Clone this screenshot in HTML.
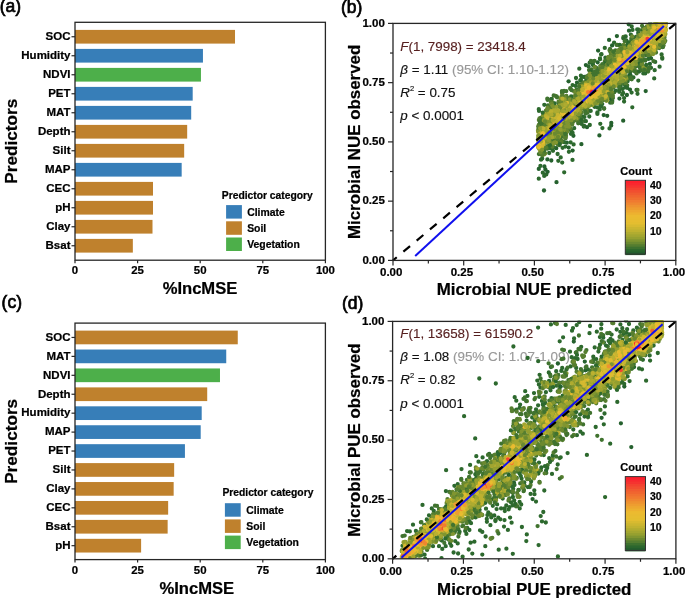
<!DOCTYPE html>
<html><head><meta charset="utf-8"><style>
html,body{margin:0;padding:0;background:#fff;width:685px;height:599px;overflow:hidden}
svg{display:block;filter:blur(0.3px);font-family:"Liberation Sans",sans-serif}
</style></head><body>
<svg width="685" height="599" viewBox="0 0 685 599">
<rect width="685" height="599" fill="#fff"/>
<rect x="75.00" y="29.90" width="160.01" height="13.7" fill="#bf812d"/>
<line x1="71.50" y1="36.75" x2="75.00" y2="36.75" stroke="#262626" stroke-width="1.2"/>
<text x="70.50" y="40.05" font-size="11.5" text-anchor="end" font-weight="bold" fill="#000" stroke="#000" stroke-width="0.22">SOC</text>
<rect x="75.00" y="48.90" width="127.95" height="13.7" fill="#377eb8"/>
<line x1="71.50" y1="55.75" x2="75.00" y2="55.75" stroke="#262626" stroke-width="1.2"/>
<text x="70.50" y="59.05" font-size="11.5" text-anchor="end" font-weight="bold" fill="#000" stroke="#000" stroke-width="0.22">Humidity</text>
<rect x="75.00" y="67.90" width="125.95" height="13.7" fill="#4daf4a"/>
<line x1="71.50" y1="74.75" x2="75.00" y2="74.75" stroke="#262626" stroke-width="1.2"/>
<text x="70.50" y="78.05" font-size="11.5" text-anchor="end" font-weight="bold" fill="#000" stroke="#000" stroke-width="0.22">NDVI</text>
<rect x="75.00" y="86.90" width="117.69" height="13.7" fill="#377eb8"/>
<line x1="71.50" y1="93.75" x2="75.00" y2="93.75" stroke="#262626" stroke-width="1.2"/>
<text x="70.50" y="97.05" font-size="11.5" text-anchor="end" font-weight="bold" fill="#000" stroke="#000" stroke-width="0.22">PET</text>
<rect x="75.00" y="105.90" width="116.19" height="13.7" fill="#377eb8"/>
<line x1="71.50" y1="112.75" x2="75.00" y2="112.75" stroke="#262626" stroke-width="1.2"/>
<text x="70.50" y="116.05" font-size="11.5" text-anchor="end" font-weight="bold" fill="#000" stroke="#000" stroke-width="0.22">MAT</text>
<rect x="75.00" y="124.90" width="112.18" height="13.7" fill="#bf812d"/>
<line x1="71.50" y1="131.75" x2="75.00" y2="131.75" stroke="#262626" stroke-width="1.2"/>
<text x="70.50" y="135.05" font-size="11.5" text-anchor="end" font-weight="bold" fill="#000" stroke="#000" stroke-width="0.22">Depth</text>
<rect x="75.00" y="143.90" width="109.17" height="13.7" fill="#bf812d"/>
<line x1="71.50" y1="150.75" x2="75.00" y2="150.75" stroke="#262626" stroke-width="1.2"/>
<text x="70.50" y="154.05" font-size="11.5" text-anchor="end" font-weight="bold" fill="#000" stroke="#000" stroke-width="0.22">Silt</text>
<rect x="75.00" y="162.90" width="106.67" height="13.7" fill="#377eb8"/>
<line x1="71.50" y1="169.75" x2="75.00" y2="169.75" stroke="#262626" stroke-width="1.2"/>
<text x="70.50" y="173.05" font-size="11.5" text-anchor="end" font-weight="bold" fill="#000" stroke="#000" stroke-width="0.22">MAP</text>
<rect x="75.00" y="181.90" width="78.00" height="13.7" fill="#bf812d"/>
<line x1="71.50" y1="188.75" x2="75.00" y2="188.75" stroke="#262626" stroke-width="1.2"/>
<text x="70.50" y="192.05" font-size="11.5" text-anchor="end" font-weight="bold" fill="#000" stroke="#000" stroke-width="0.22">CEC</text>
<rect x="75.00" y="200.90" width="78.00" height="13.7" fill="#bf812d"/>
<line x1="71.50" y1="207.75" x2="75.00" y2="207.75" stroke="#262626" stroke-width="1.2"/>
<text x="70.50" y="211.05" font-size="11.5" text-anchor="end" font-weight="bold" fill="#000" stroke="#000" stroke-width="0.22">pH</text>
<rect x="75.00" y="219.90" width="77.50" height="13.7" fill="#bf812d"/>
<line x1="71.50" y1="226.75" x2="75.00" y2="226.75" stroke="#262626" stroke-width="1.2"/>
<text x="70.50" y="230.05" font-size="11.5" text-anchor="end" font-weight="bold" fill="#000" stroke="#000" stroke-width="0.22">Clay</text>
<rect x="75.00" y="238.90" width="57.84" height="13.7" fill="#bf812d"/>
<line x1="71.50" y1="245.75" x2="75.00" y2="245.75" stroke="#262626" stroke-width="1.2"/>
<text x="70.50" y="249.05" font-size="11.5" text-anchor="end" font-weight="bold" fill="#000" stroke="#000" stroke-width="0.22">Bsat</text>
<rect x="75.00" y="22.30" width="250.40" height="237.90" fill="none" stroke="#262626" stroke-width="1.3"/>
<line x1="75.00" y1="260.20" x2="75.00" y2="263.20" stroke="#262626" stroke-width="1.2"/>
<text x="75.00" y="274.30" font-size="11.4" text-anchor="middle" font-weight="bold" fill="#000" stroke="#000" stroke-width="0.22">0</text>
<line x1="137.60" y1="260.20" x2="137.60" y2="263.20" stroke="#262626" stroke-width="1.2"/>
<text x="137.60" y="274.30" font-size="11.4" text-anchor="middle" font-weight="bold" fill="#000" stroke="#000" stroke-width="0.22">25</text>
<line x1="200.20" y1="260.20" x2="200.20" y2="263.20" stroke="#262626" stroke-width="1.2"/>
<text x="200.20" y="274.30" font-size="11.4" text-anchor="middle" font-weight="bold" fill="#000" stroke="#000" stroke-width="0.22">50</text>
<line x1="262.80" y1="260.20" x2="262.80" y2="263.20" stroke="#262626" stroke-width="1.2"/>
<text x="262.80" y="274.30" font-size="11.4" text-anchor="middle" font-weight="bold" fill="#000" stroke="#000" stroke-width="0.22">75</text>
<line x1="325.40" y1="260.20" x2="325.40" y2="263.20" stroke="#262626" stroke-width="1.2"/>
<text x="325.40" y="274.30" font-size="11.4" text-anchor="middle" font-weight="bold" fill="#000" stroke="#000" stroke-width="0.22">100</text>
<text x="200.00" y="293.80" font-size="16.6" text-anchor="middle" font-weight="bold" fill="#000" stroke="#000" stroke-width="0.22">%IncMSE</text>
<text transform="translate(17.3,141.25) rotate(-90)" x="0" y="0" font-size="17.2" text-anchor="middle" font-weight="bold" stroke="#000" stroke-width="0.22">Predictors</text>
<text x="221.80" y="198.60" font-size="10.3" text-anchor="start" font-weight="bold" fill="#000" stroke="#000" stroke-width="0.22">Predictor category</text>
<rect x="226.1" y="205.10" width="15.8" height="13.5" fill="#377eb8"/>
<text x="247.20" y="215.90" font-size="10.4" text-anchor="start" font-weight="bold" fill="#000" stroke="#000" stroke-width="0.22">Climate</text>
<rect x="226.1" y="221.30" width="15.8" height="13.5" fill="#bf812d"/>
<text x="247.20" y="232.10" font-size="10.4" text-anchor="start" font-weight="bold" fill="#000" stroke="#000" stroke-width="0.22">Soil</text>
<rect x="226.1" y="237.50" width="15.8" height="13.5" fill="#4daf4a"/>
<text x="247.20" y="248.30" font-size="10.4" text-anchor="start" font-weight="bold" fill="#000" stroke="#000" stroke-width="0.22">Vegetation</text>
<rect x="75.00" y="330.60" width="162.76" height="13.7" fill="#bf812d"/>
<line x1="71.50" y1="337.45" x2="75.00" y2="337.45" stroke="#262626" stroke-width="1.2"/>
<text x="70.50" y="340.75" font-size="11.5" text-anchor="end" font-weight="bold" fill="#000" stroke="#000" stroke-width="0.22">SOC</text>
<rect x="75.00" y="349.53" width="151.24" height="13.7" fill="#377eb8"/>
<line x1="71.50" y1="356.38" x2="75.00" y2="356.38" stroke="#262626" stroke-width="1.2"/>
<text x="70.50" y="359.68" font-size="11.5" text-anchor="end" font-weight="bold" fill="#000" stroke="#000" stroke-width="0.22">MAT</text>
<rect x="75.00" y="368.46" width="144.98" height="13.7" fill="#4daf4a"/>
<line x1="71.50" y1="375.31" x2="75.00" y2="375.31" stroke="#262626" stroke-width="1.2"/>
<text x="70.50" y="378.61" font-size="11.5" text-anchor="end" font-weight="bold" fill="#000" stroke="#000" stroke-width="0.22">NDVI</text>
<rect x="75.00" y="387.39" width="132.21" height="13.7" fill="#bf812d"/>
<line x1="71.50" y1="394.24" x2="75.00" y2="394.24" stroke="#262626" stroke-width="1.2"/>
<text x="70.50" y="397.54" font-size="11.5" text-anchor="end" font-weight="bold" fill="#000" stroke="#000" stroke-width="0.22">Depth</text>
<rect x="75.00" y="406.32" width="126.70" height="13.7" fill="#377eb8"/>
<line x1="71.50" y1="413.17" x2="75.00" y2="413.17" stroke="#262626" stroke-width="1.2"/>
<text x="70.50" y="416.47" font-size="11.5" text-anchor="end" font-weight="bold" fill="#000" stroke="#000" stroke-width="0.22">Humidity</text>
<rect x="75.00" y="425.25" width="125.70" height="13.7" fill="#377eb8"/>
<line x1="71.50" y1="432.10" x2="75.00" y2="432.10" stroke="#262626" stroke-width="1.2"/>
<text x="70.50" y="435.40" font-size="11.5" text-anchor="end" font-weight="bold" fill="#000" stroke="#000" stroke-width="0.22">MAP</text>
<rect x="75.00" y="444.18" width="109.93" height="13.7" fill="#377eb8"/>
<line x1="71.50" y1="451.03" x2="75.00" y2="451.03" stroke="#262626" stroke-width="1.2"/>
<text x="70.50" y="454.33" font-size="11.5" text-anchor="end" font-weight="bold" fill="#000" stroke="#000" stroke-width="0.22">PET</text>
<rect x="75.00" y="463.11" width="99.16" height="13.7" fill="#bf812d"/>
<line x1="71.50" y1="469.96" x2="75.00" y2="469.96" stroke="#262626" stroke-width="1.2"/>
<text x="70.50" y="473.26" font-size="11.5" text-anchor="end" font-weight="bold" fill="#000" stroke="#000" stroke-width="0.22">Silt</text>
<rect x="75.00" y="482.04" width="98.66" height="13.7" fill="#bf812d"/>
<line x1="71.50" y1="488.89" x2="75.00" y2="488.89" stroke="#262626" stroke-width="1.2"/>
<text x="70.50" y="492.19" font-size="11.5" text-anchor="end" font-weight="bold" fill="#000" stroke="#000" stroke-width="0.22">Clay</text>
<rect x="75.00" y="500.97" width="93.15" height="13.7" fill="#bf812d"/>
<line x1="71.50" y1="507.82" x2="75.00" y2="507.82" stroke="#262626" stroke-width="1.2"/>
<text x="70.50" y="511.12" font-size="11.5" text-anchor="end" font-weight="bold" fill="#000" stroke="#000" stroke-width="0.22">CEC</text>
<rect x="75.00" y="519.90" width="92.65" height="13.7" fill="#bf812d"/>
<line x1="71.50" y1="526.75" x2="75.00" y2="526.75" stroke="#262626" stroke-width="1.2"/>
<text x="70.50" y="530.05" font-size="11.5" text-anchor="end" font-weight="bold" fill="#000" stroke="#000" stroke-width="0.22">Bsat</text>
<rect x="75.00" y="538.83" width="66.11" height="13.7" fill="#bf812d"/>
<line x1="71.50" y1="545.68" x2="75.00" y2="545.68" stroke="#262626" stroke-width="1.2"/>
<text x="70.50" y="548.98" font-size="11.5" text-anchor="end" font-weight="bold" fill="#000" stroke="#000" stroke-width="0.22">pH</text>
<rect x="75.00" y="323.10" width="250.40" height="236.50" fill="none" stroke="#262626" stroke-width="1.3"/>
<line x1="75.00" y1="559.60" x2="75.00" y2="562.60" stroke="#262626" stroke-width="1.2"/>
<text x="75.00" y="573.70" font-size="11.4" text-anchor="middle" font-weight="bold" fill="#000" stroke="#000" stroke-width="0.22">0</text>
<line x1="137.60" y1="559.60" x2="137.60" y2="562.60" stroke="#262626" stroke-width="1.2"/>
<text x="137.60" y="573.70" font-size="11.4" text-anchor="middle" font-weight="bold" fill="#000" stroke="#000" stroke-width="0.22">25</text>
<line x1="200.20" y1="559.60" x2="200.20" y2="562.60" stroke="#262626" stroke-width="1.2"/>
<text x="200.20" y="573.70" font-size="11.4" text-anchor="middle" font-weight="bold" fill="#000" stroke="#000" stroke-width="0.22">50</text>
<line x1="262.80" y1="559.60" x2="262.80" y2="562.60" stroke="#262626" stroke-width="1.2"/>
<text x="262.80" y="573.70" font-size="11.4" text-anchor="middle" font-weight="bold" fill="#000" stroke="#000" stroke-width="0.22">75</text>
<line x1="325.40" y1="559.60" x2="325.40" y2="562.60" stroke="#262626" stroke-width="1.2"/>
<text x="325.40" y="573.70" font-size="11.4" text-anchor="middle" font-weight="bold" fill="#000" stroke="#000" stroke-width="0.22">100</text>
<text x="196.80" y="594.30" font-size="16.6" text-anchor="middle" font-weight="bold" fill="#000" stroke="#000" stroke-width="0.22">%IncMSE</text>
<text transform="translate(17.3,441.35) rotate(-90)" x="0" y="0" font-size="17.2" text-anchor="middle" font-weight="bold" stroke="#000" stroke-width="0.22">Predictors</text>
<text x="222.40" y="495.60" font-size="10.3" text-anchor="start" font-weight="bold" fill="#000" stroke="#000" stroke-width="0.22">Predictor category</text>
<rect x="224.9" y="503.20" width="15.8" height="13.5" fill="#377eb8"/>
<text x="246.30" y="514.00" font-size="10.4" text-anchor="start" font-weight="bold" fill="#000" stroke="#000" stroke-width="0.22">Climate</text>
<rect x="224.9" y="519.40" width="15.8" height="13.5" fill="#bf812d"/>
<text x="246.30" y="530.20" font-size="10.4" text-anchor="start" font-weight="bold" fill="#000" stroke="#000" stroke-width="0.22">Soil</text>
<rect x="224.9" y="535.60" width="15.8" height="13.5" fill="#4daf4a"/>
<text x="246.30" y="546.40" font-size="10.4" text-anchor="start" font-weight="bold" fill="#000" stroke="#000" stroke-width="0.22">Vegetation</text>
<text x="-0.30" y="12.00" font-size="17.5" text-anchor="start" font-weight="normal" fill="#000" stroke="#000" stroke-width="0.7">(a)</text>
<text x="1.60" y="308.10" font-size="17.5" text-anchor="start" font-weight="normal" fill="#000" stroke="#000" stroke-width="0.7">(c)</text>
<text x="341.00" y="12.70" font-size="17.5" text-anchor="start" font-weight="normal" fill="#000" stroke="#000" stroke-width="0.7">(b)</text>
<text x="341.90" y="308.80" font-size="17.5" text-anchor="start" font-weight="normal" fill="#000" stroke="#000" stroke-width="0.7">(d)</text>
<text x="400.3" y="50.50" font-size="13.4" fill="#561f1f" stroke="#561f1f" stroke-width="0.15"><tspan font-style="italic">F</tspan>(1, 7998) = 23418.4</text>
<text x="400.3" y="73.50" font-size="13.4" fill="#111" stroke="#111" stroke-width="0.15"><tspan font-style="italic">β</tspan> = 1.11 <tspan fill="#999" stroke="#999">(95% CI: 1.10-1.12)</tspan></text>
<text x="400.3" y="96.50" font-size="13.4" fill="#111" stroke="#111" stroke-width="0.15"><tspan font-style="italic">R</tspan><tspan font-size="7.5" dy="-6">2</tspan><tspan dy="6"> = 0.75</tspan></text>
<text x="400.3" y="119.50" font-size="13.4" fill="#111" stroke="#111" stroke-width="0.15"><tspan font-style="italic">p</tspan> &lt; 0.0001</text>
<clipPath id="cb"><rect x="393.0" y="22.4" width="283.79999999999995" height="237.99999999999997"/></clipPath>
<g clip-path="url(#cb)">
<g fill="none" stroke-width="4.30" stroke-linecap="round"><path d="M581.4 144.2h0M645.7 91.1h0M616.9 36.1h0M598.1 50.6h0M611.2 125.6h0M556.3 148.2h0M566.8 142.7h0M609.1 39.9h0M547.4 159.4h0M594.6 106.8h0M597.7 62.3h0" stroke="#25612e"/><path d="M562.2 162.6h0M589.3 116.5h0M540.2 121.1h0M600.3 123.8h0M632.5 29.9h0M602.4 128.1h0M550.8 148.4h0M584.2 126.0h0M592.9 64.5h0M630.9 34.7h0M637.5 93.8h0M631.7 37.8h0M627.6 81.2h0M614.1 42.6h0M628.7 42.4h0M572.5 159.9h0M565.4 146.6h0M619.2 91.8h0M633.4 77.4h0M582.5 116.5h0M572.6 85.1h0M560.7 157.4h0M631.7 26.5h0M612.3 101.1h0M636.5 90.0h0M624.1 98.1h0M597.1 107.3h0M573.6 144.4h0M628.2 76.5h0M642.0 30.3h0M580.3 80.3h0M579.3 68.7h0" stroke="#2d692e"/><path d="M617.4 44.8h0M551.8 99.0h0M569.2 129.5h0M547.4 147.4h0M604.0 108.5h0M662.7 47.2h0M610.4 52.0h0M547.4 148.7h0M636.6 73.4h0M587.1 76.2h0M610.3 59.3h0M562.0 136.2h0M614.3 92.3h0M656.0 52.6h0M570.3 88.2h0M633.9 37.5h0M631.2 40.8h0M541.1 118.0h0M548.0 105.3h0M631.3 38.9h0M615.5 50.5h0M587.6 112.6h0" stroke="#40732f"/><path d="M646.3 68.8h0M640.5 68.4h0M600.2 66.1h0M618.8 50.3h0M584.0 82.3h0M573.1 121.5h0M604.7 61.1h0M645.0 66.7h0M614.0 55.2h0M553.9 143.4h0M663.5 45.4h0M545.9 110.6h0M614.7 54.9h0M580.0 115.3h0M566.4 95.9h0M636.2 71.3h0M573.9 96.5h0M557.9 144.6h0M545.7 132.8h0M587.1 109.4h0M639.8 65.1h0M593.2 73.0h0M650.3 67.4h0" stroke="#567e30"/><path d="M650.1 55.3h0M561.7 140.4h0M643.3 28.0h0M552.6 102.5h0M632.2 36.4h0M646.8 26.4h0M572.5 122.7h0M564.8 137.0h0M610.8 88.3h0M551.9 135.3h0M566.3 121.2h0" stroke="#6b8930"/><path d="M665.4 33.9h0M561.2 97.2h0M610.5 85.1h0M662.3 22.7h0M665.7 22.8h0M558.1 138.5h0M558.4 106.0h0M636.1 40.9h0M623.8 45.0h0M629.0 68.0h0M617.1 53.6h0M611.2 89.8h0" stroke="#809530"/><path d="M540.1 150.7h0M625.5 80.6h0M621.4 81.4h0M624.2 51.2h0M649.1 25.2h0M657.5 21.9h0" stroke="#939f30"/><path d="M555.6 131.5h0M664.6 35.8h0" stroke="#a1a530"/><path d="M632.8 42.6h0M544.1 143.9h0M613.2 84.9h0" stroke="#aeab30"/><path d="M544.2 132.2h0" stroke="#bcb130"/><path d="M664.7 32.8h0" stroke="#c8b530"/><path d="M665.6 25.3h0M564.8 101.6h0" stroke="#d3b930"/><path d="M651.1 58.3h0M610.5 98.9h0M585.9 65.1h0M607.2 115.8h0M587.0 127.2h0M568.7 147.6h0M545.4 169.5h0M573.4 135.8h0M649.9 63.8h0" stroke="#25612e"/><path d="M654.7 70.2h0M601.5 54.2h0M571.4 130.5h0M638.2 32.9h0M661.6 54.5h0M620.7 86.0h0M542.8 172.7h0M627.0 45.4h0M643.3 73.4h0M542.2 158.6h0M553.8 147.3h0M589.7 62.7h0M650.1 22.1h0M546.3 174.4h0M589.8 125.0h0M622.2 94.7h0M639.1 71.5h0M568.9 151.8h0M580.9 75.7h0M544.3 104.8h0M655.2 61.9h0M602.2 104.1h0M627.9 43.0h0" stroke="#2d692e"/><path d="M600.2 104.8h0M641.9 70.2h0M562.3 93.5h0M642.7 58.1h0M612.9 98.1h0M619.1 86.3h0M557.0 143.0h0M565.8 97.1h0M589.0 70.1h0M566.2 91.2h0M557.1 97.4h0M565.6 138.2h0M591.6 69.3h0M635.3 66.7h0M547.4 146.2h0M623.5 36.9h0M604.2 108.5h0M564.1 91.0h0M662.2 57.6h0M538.9 154.1h0M562.0 92.9h0" stroke="#40732f"/><path d="M664.5 37.7h0M569.8 101.1h0M585.6 82.0h0M634.2 68.2h0M611.9 61.1h0M641.5 59.0h0M643.3 67.0h0M558.4 106.6h0M566.2 133.1h0M611.3 51.1h0M608.1 86.5h0M665.3 40.8h0M580.2 89.2h0M664.3 42.6h0M570.9 124.3h0M601.0 103.0h0M613.9 59.3h0M609.5 50.3h0M588.3 110.3h0M633.7 70.5h0M592.7 73.9h0" stroke="#567e30"/><path d="M548.9 133.2h0M553.1 129.4h0M598.2 101.0h0M628.2 71.4h0M613.0 64.3h0M642.1 62.2h0M588.7 106.3h0M629.7 70.5h0M622.3 48.4h0M555.3 95.8h0M542.9 138.9h0M550.6 132.5h0M582.2 90.1h0M568.0 122.4h0" stroke="#6b8930"/><path d="M565.2 108.6h0M574.8 100.3h0M566.2 106.7h0M653.2 54.0h0M665.6 22.7h0M633.0 43.0h0M644.7 68.9h0M592.4 77.5h0M550.8 123.2h0M556.7 117.6h0M655.0 22.1h0M634.1 41.4h0M608.4 83.1h0M568.2 124.3h0" stroke="#809530"/><path d="M648.5 26.0h0M543.5 145.6h0M566.3 99.3h0M551.8 137.1h0M662.4 37.4h0M607.3 98.3h0M538.4 137.9h0M624.9 50.8h0" stroke="#939f30"/><path d="M566.1 119.5h0M538.2 147.6h0M602.0 94.0h0" stroke="#a1a530"/><path d="M553.5 134.1h0M543.7 146.4h0M628.5 66.3h0M609.0 82.3h0M545.2 130.6h0M569.0 102.7h0" stroke="#aeab30"/><path d="M567.8 108.2h0M627.0 67.6h0M604.2 96.6h0M562.7 116.0h0" stroke="#bcb130"/><path d="M612.3 80.7h0" stroke="#c8b530"/><path d="M554.3 118.8h0" stroke="#debc30"/><path d="M547.6 171.8h0M628.7 24.3h0M556.5 182.2h0M577.0 82.6h0M544.4 166.5h0M612.1 45.4h0" stroke="#25612e"/><path d="M583.7 126.6h0M538.8 178.7h0M630.7 75.8h0M584.4 117.1h0M538.8 109.2h0M551.1 99.1h0M610.2 102.7h0M601.1 54.6h0M609.5 128.4h0M602.1 67.6h0M570.9 133.8h0M549.2 153.0h0M619.5 89.5h0M659.6 66.7h0M626.3 40.3h0M599.7 109.4h0M574.2 128.2h0M632.3 107.3h0M540.4 165.9h0M662.3 58.7h0M584.2 77.0h0" stroke="#2d692e"/><path d="M643.6 28.0h0M594.5 60.8h0M559.4 145.2h0M659.3 48.0h0M620.8 51.9h0M639.9 67.5h0M551.6 142.2h0M551.1 144.8h0M630.4 78.9h0M541.1 154.3h0M605.1 64.9h0M620.2 83.7h0M580.9 118.7h0M630.8 71.2h0M616.6 44.9h0" stroke="#40732f"/><path d="M548.4 130.9h0M538.9 120.1h0M644.4 28.8h0M551.4 132.0h0M624.4 36.8h0M646.9 28.2h0M550.5 139.8h0M627.0 78.7h0M582.3 83.7h0M612.5 96.4h0M581.8 112.3h0M626.5 76.6h0M570.5 128.7h0M589.3 74.4h0M544.5 124.3h0" stroke="#567e30"/><path d="M567.9 120.5h0M547.9 107.7h0M538.9 124.8h0M612.0 92.3h0M641.5 63.7h0M562.3 141.6h0M605.5 85.4h0M599.1 72.1h0M589.6 76.5h0M542.5 124.8h0M563.4 132.2h0M640.0 56.7h0M555.6 128.0h0M556.2 141.6h0M575.0 97.5h0M607.0 89.5h0M652.7 24.4h0" stroke="#6b8930"/><path d="M585.8 83.2h0M576.9 101.7h0M625.3 73.0h0M554.4 106.4h0M553.7 108.2h0M665.0 21.5h0M560.5 134.7h0M609.0 65.1h0M557.7 142.4h0M659.4 46.8h0M552.7 127.8h0M540.1 125.9h0M563.5 121.7h0M569.2 120.3h0M544.3 116.7h0M544.5 154.3h0M581.9 88.7h0M608.3 80.1h0M552.2 130.1h0" stroke="#809530"/><path d="M579.5 93.0h0M568.5 107.0h0M588.2 77.0h0M556.7 110.4h0M590.0 78.7h0M582.3 96.2h0M646.6 55.0h0" stroke="#939f30"/><path d="M563.1 116.9h0M579.1 107.6h0M540.6 140.2h0M551.6 110.9h0M658.0 38.1h0M661.9 36.9h0M556.4 117.0h0M621.0 81.0h0M665.9 23.6h0" stroke="#a1a530"/><path d="M543.3 133.7h0M637.9 43.7h0M564.5 107.0h0M538.4 142.1h0M551.4 124.5h0M634.0 44.2h0M601.5 71.5h0" stroke="#aeab30"/><path d="M637.2 39.8h0M601.3 92.6h0M560.1 120.5h0M538.8 143.5h0M564.2 103.3h0" stroke="#bcb130"/><path d="M589.3 105.6h0M538.8 140.9h0M554.9 125.6h0" stroke="#c8b530"/><path d="M558.9 118.4h0" stroke="#eabb30"/><path d="M629.0 30.7h0M630.1 74.4h0" stroke="#25612e"/><path d="M597.4 113.9h0M623.1 92.9h0M593.2 65.2h0M541.0 159.7h0M544.2 175.9h0M648.4 58.9h0M575.6 85.9h0M636.6 36.6h0M572.6 132.9h0" stroke="#2d692e"/><path d="M594.2 75.0h0M631.7 79.3h0M613.3 87.5h0M630.7 77.5h0M590.9 61.0h0M556.6 96.5h0M560.1 141.5h0M624.0 84.1h0M648.1 71.5h0M584.4 121.1h0M572.3 122.1h0M570.4 88.9h0" stroke="#40732f"/><path d="M567.6 98.4h0M578.0 119.9h0M647.7 30.9h0M580.5 122.7h0M552.4 146.8h0M561.5 140.9h0M539.5 118.5h0M565.7 136.8h0M610.3 95.5h0M599.0 69.2h0M610.0 88.8h0M664.4 42.0h0M637.8 36.4h0M550.3 107.4h0" stroke="#567e30"/><path d="M547.5 108.5h0M599.9 99.4h0M581.6 108.8h0M607.0 96.1h0M562.7 121.8h0M577.4 99.2h0M643.9 66.6h0M577.8 118.0h0M560.0 127.6h0M619.7 83.1h0M613.6 58.8h0M631.4 44.8h0M601.9 72.6h0M626.7 49.0h0M655.7 49.5h0M547.2 124.4h0" stroke="#6b8930"/><path d="M644.4 28.9h0M576.3 93.0h0M584.3 108.5h0M604.5 93.4h0M541.0 131.1h0M662.0 39.7h0M575.1 90.6h0M664.1 41.3h0M555.6 140.3h0M614.0 62.7h0M551.9 129.5h0M551.4 123.2h0M607.1 88.7h0" stroke="#809530"/><path d="M597.8 77.6h0M590.0 81.7h0M638.6 52.1h0M544.7 141.7h0M551.8 138.1h0M616.7 72.4h0M571.2 101.9h0M556.5 106.8h0M550.8 129.4h0M633.2 43.6h0M588.6 80.3h0M582.1 88.5h0M543.2 135.1h0M600.2 96.4h0M610.7 90.3h0M558.1 134.3h0M544.3 141.5h0M643.6 67.4h0M550.2 110.8h0M547.0 135.5h0M657.4 22.2h0" stroke="#939f30"/><path d="M546.5 141.6h0M573.6 101.7h0M652.6 51.9h0M664.5 34.6h0M554.2 134.9h0M633.9 46.6h0M564.8 130.0h0" stroke="#a1a530"/><path d="M649.4 28.2h0M592.2 84.1h0M599.5 95.6h0M578.3 105.6h0M600.8 79.8h0M612.3 68.2h0M649.8 49.2h0M550.9 125.3h0" stroke="#aeab30"/><path d="M569.9 117.5h0M618.4 69.8h0M555.2 132.8h0M617.3 80.6h0M655.5 21.8h0M558.5 121.4h0M643.4 35.4h0M539.5 141.2h0M624.8 72.5h0" stroke="#bcb130"/><path d="M561.8 118.9h0M657.5 38.8h0M573.9 109.6h0" stroke="#c8b530"/><path d="M618.3 73.3h0M578.7 109.8h0" stroke="#d3b930"/><path d="M664.4 32.0h0M652.2 48.1h0M630.4 55.3h0" stroke="#debc30"/><path d="M559.1 115.7h0M657.9 39.9h0M604.6 79.2h0M541.1 133.9h0" stroke="#e5bd30"/><path d="M588.0 84.1h0" stroke="#eabb30"/><path d="M553.8 121.9h0" stroke="#eda630"/><path d="M572.6 150.6h0" stroke="#25612e"/><path d="M615.9 90.6h0M631.6 92.6h0M564.2 142.2h0M586.2 78.7h0M590.6 71.6h0M571.1 96.4h0M581.8 76.9h0M623.3 38.3h0M605.2 62.6h0M570.6 142.3h0M580.9 79.9h0M554.7 103.3h0M639.0 62.9h0" stroke="#2d692e"/><path d="M577.4 117.0h0M579.8 84.4h0M638.7 30.2h0M560.7 137.6h0M637.1 65.9h0M638.8 29.6h0M645.3 60.5h0M627.2 85.3h0M600.0 58.4h0M584.8 109.3h0M576.8 89.7h0" stroke="#40732f"/><path d="M561.6 141.8h0M611.0 54.7h0M619.6 45.8h0M562.0 132.1h0M625.8 83.4h0M603.4 100.0h0M612.7 54.6h0M583.2 83.3h0M550.9 102.0h0M578.6 94.7h0M574.2 91.5h0M580.2 123.2h0M663.2 45.8h0" stroke="#567e30"/><path d="M633.3 69.3h0M565.8 100.7h0M548.0 112.5h0M610.1 91.8h0M601.3 65.7h0M545.2 153.3h0M558.9 137.3h0M560.6 104.0h0M569.4 126.7h0M567.2 131.4h0" stroke="#6b8930"/><path d="M554.5 136.3h0M601.5 74.1h0M542.8 147.4h0M587.8 106.1h0M598.5 79.6h0M563.2 127.6h0M558.0 126.1h0M575.7 95.1h0M606.3 94.7h0M554.5 136.9h0M626.4 69.3h0M665.2 22.0h0M649.2 52.5h0M651.9 53.6h0M654.4 52.2h0M616.1 85.7h0" stroke="#809530"/><path d="M659.7 41.9h0M644.7 53.2h0M616.6 54.9h0M582.7 96.4h0M585.8 83.6h0M607.3 100.0h0M592.5 105.0h0M606.5 67.4h0" stroke="#939f30"/><path d="M543.7 139.3h0M538.7 135.2h0M569.5 104.1h0M643.8 51.6h0M603.0 85.9h0M554.0 133.0h0M623.5 53.2h0M559.1 136.2h0M614.7 63.5h0M565.2 119.0h0M608.5 64.7h0M546.4 118.7h0M607.5 82.5h0" stroke="#a1a530"/><path d="M548.7 115.7h0M606.7 100.7h0M655.5 23.3h0M543.1 146.2h0M561.1 113.8h0M560.3 124.3h0M575.7 105.5h0M569.9 108.3h0M602.3 75.6h0M556.7 138.5h0M570.9 116.6h0M660.4 22.5h0" stroke="#aeab30"/><path d="M551.6 127.8h0M665.9 29.3h0M663.1 25.9h0M630.6 59.2h0M649.7 48.8h0M587.1 85.5h0M608.5 71.9h0M602.2 76.3h0" stroke="#bcb130"/><path d="M595.0 86.6h0M540.2 149.3h0M550.0 115.6h0M592.3 99.3h0M596.9 81.7h0M611.4 83.4h0" stroke="#c8b530"/><path d="M609.2 69.1h0M635.7 46.5h0M542.9 143.9h0M555.1 121.7h0M596.9 80.7h0" stroke="#d3b930"/><path d="M560.1 114.1h0M569.0 115.3h0M636.9 58.0h0M601.6 92.0h0M648.3 49.9h0M591.9 87.2h0" stroke="#debc30"/><path d="M596.1 92.6h0" stroke="#e5bd30"/><path d="M628.5 57.9h0M538.0 145.8h0" stroke="#e8bc30"/><path d="M588.3 88.4h0" stroke="#ecb830"/><path d="M611.3 123.0h0M538.8 168.9h0" stroke="#25612e"/><path d="M600.1 59.2h0M624.1 101.6h0M597.4 112.5h0M651.0 67.8h0M539.0 110.9h0M553.0 150.8h0M558.7 102.7h0M581.4 120.2h0" stroke="#2d692e"/><path d="M645.9 55.2h0M648.5 70.0h0M541.5 117.6h0M539.6 124.2h0M597.2 71.0h0M597.5 72.6h0" stroke="#40732f"/><path d="M641.7 63.9h0M547.1 127.0h0M561.9 133.6h0M557.0 139.4h0M619.2 49.8h0M568.3 98.1h0M609.0 58.6h0M576.4 120.6h0M542.3 155.2h0M572.2 124.5h0" stroke="#567e30"/><path d="M591.4 80.6h0M583.6 107.3h0M661.5 45.3h0M617.1 84.1h0M612.3 52.4h0M604.8 89.1h0M649.5 27.0h0M547.5 118.8h0M614.4 59.6h0M598.7 75.9h0M579.7 86.3h0M574.5 91.6h0" stroke="#6b8930"/><path d="M615.9 57.6h0M588.5 81.2h0M563.2 128.9h0M556.4 136.5h0M579.6 111.0h0M571.2 105.0h0M561.4 125.4h0M608.4 63.1h0M590.0 73.7h0M649.6 25.6h0M564.1 110.2h0M560.8 98.4h0M617.8 51.5h0M538.1 139.5h0" stroke="#809530"/><path d="M540.9 136.3h0M561.0 130.5h0M633.1 64.4h0M553.8 119.3h0M626.1 78.3h0M580.9 96.9h0M634.1 64.2h0M605.2 83.2h0M559.9 103.4h0M633.7 44.4h0M605.7 91.2h0M539.1 148.7h0M623.3 48.3h0M550.0 124.1h0M581.7 107.4h0M562.2 103.0h0M650.2 52.4h0" stroke="#939f30"/><path d="M591.1 82.4h0M571.6 112.0h0M546.2 129.9h0M544.8 114.0h0M597.0 97.9h0M642.2 37.3h0M617.8 64.2h0M633.7 44.7h0M539.7 139.7h0M578.4 103.4h0M620.8 71.8h0M555.8 134.6h0M645.2 49.5h0M549.8 127.5h0M567.7 126.3h0M652.3 26.6h0" stroke="#a1a530"/><path d="M639.0 50.9h0M571.1 108.6h0M645.5 48.0h0M623.4 70.1h0M643.0 47.5h0M591.4 86.6h0" stroke="#aeab30"/><path d="M651.3 47.7h0M596.8 78.2h0M607.3 83.3h0M647.0 35.7h0M559.7 119.4h0M611.0 83.1h0M623.2 60.2h0M578.5 102.2h0M567.6 110.9h0M623.3 75.9h0M602.6 76.7h0M618.6 56.5h0" stroke="#bcb130"/><path d="M632.0 55.9h0M660.8 36.2h0M567.7 114.9h0M538.9 146.4h0M638.3 44.5h0" stroke="#c8b530"/><path d="M605.4 78.3h0M542.7 145.5h0M655.5 45.0h0" stroke="#d3b930"/><path d="M562.8 106.9h0M635.7 46.6h0M538.4 144.2h0M589.9 87.4h0" stroke="#debc30"/><path d="M642.1 48.3h0M626.2 60.2h0" stroke="#e5bd30"/><path d="M585.7 85.3h0M541.0 134.7h0M649.0 43.1h0" stroke="#e8bc30"/><path d="M595.7 93.3h0" stroke="#eabb30"/><path d="M617.7 69.0h0M572.4 115.4h0M643.4 37.4h0" stroke="#ecb830"/><path d="M587.3 89.9h0" stroke="#ee9d30"/><path d="M637.2 29.4h0M557.6 154.0h0M605.4 57.7h0" stroke="#2d692e"/><path d="M602.3 64.2h0M619.3 87.5h0M642.1 25.8h0M547.7 99.9h0M645.3 59.6h0M542.0 123.1h0M544.3 150.5h0" stroke="#40732f"/><path d="M578.1 91.0h0M565.2 137.4h0M623.2 45.3h0M544.6 125.4h0M612.8 95.6h0M620.1 53.8h0M624.0 46.0h0M615.7 55.2h0" stroke="#567e30"/><path d="M621.4 53.5h0M545.9 136.1h0M551.4 104.0h0M585.7 109.7h0M606.7 64.9h0M560.6 100.4h0M625.0 76.5h0M627.5 49.9h0M561.0 101.7h0M610.6 56.7h0M549.2 135.8h0M641.9 63.9h0M551.9 104.0h0" stroke="#6b8930"/><path d="M538.4 136.7h0M602.6 80.7h0M543.0 115.5h0M552.6 106.1h0M557.1 130.5h0M538.3 135.8h0M663.0 41.9h0M642.1 33.1h0M557.2 129.9h0M649.8 31.0h0M575.2 117.3h0" stroke="#809530"/><path d="M582.0 87.4h0M606.4 100.1h0M599.6 76.5h0M576.6 118.3h0M562.1 96.1h0M624.1 79.7h0M562.0 98.5h0M563.6 99.2h0M590.4 101.1h0M541.8 150.0h0M653.4 39.5h0M560.5 112.3h0M570.4 111.3h0" stroke="#939f30"/><path d="M562.3 104.9h0M648.6 26.9h0M615.8 59.5h0M665.6 30.7h0M546.9 129.1h0M604.2 72.7h0M664.7 34.3h0M551.3 115.5h0M582.0 86.3h0M563.5 106.5h0M595.1 81.3h0M551.4 118.2h0M593.8 100.3h0M557.3 114.0h0M553.1 111.9h0M617.6 55.7h0M565.7 113.4h0M580.6 97.1h0M543.5 134.6h0" stroke="#a1a530"/><path d="M538.1 131.9h0M638.3 54.3h0M651.5 30.3h0M617.2 61.3h0M642.9 35.6h0M585.5 100.6h0M640.2 48.0h0M549.1 113.6h0" stroke="#aeab30"/><path d="M617.5 68.9h0M610.2 70.8h0M635.0 47.9h0M589.9 85.5h0M569.7 115.3h0M602.2 91.7h0M655.0 33.1h0M621.3 75.6h0M657.8 34.4h0M591.7 89.6h0M581.9 92.9h0M586.9 93.2h0" stroke="#bcb130"/><path d="M657.6 32.5h0M571.9 114.4h0M601.4 83.7h0M663.3 34.7h0M643.7 46.4h0M585.0 91.3h0M654.1 41.9h0M579.0 99.6h0M586.1 84.8h0M661.7 27.2h0M552.8 118.2h0M640.4 45.8h0M582.6 105.2h0" stroke="#c8b530"/><path d="M542.7 143.4h0M658.3 41.3h0M623.4 79.6h0M631.8 58.0h0M641.9 53.0h0" stroke="#d3b930"/><path d="M584.5 102.6h0M551.2 126.6h0M623.6 61.9h0M616.7 73.7h0" stroke="#debc30"/><path d="M543.1 141.9h0M614.8 64.9h0M598.9 91.3h0M663.6 32.7h0" stroke="#e5bd30"/><path d="M540.2 145.1h0" stroke="#e8bc30"/><path d="M627.6 58.5h0" stroke="#eabb30"/><path d="M588.9 87.5h0" stroke="#edaf30"/><path d="M597.6 89.0h0M648.6 41.3h0" stroke="#f07130"/><path d="M623.2 120.7h0M619.4 98.6h0M599.4 135.4h0" stroke="#25612e"/><path d="M604.8 47.9h0M619.8 44.9h0M542.7 112.7h0M646.3 65.0h0M638.3 80.6h0M588.6 66.4h0M654.2 78.4h0" stroke="#2d692e"/><path d="M606.4 60.0h0M644.9 59.8h0M541.4 123.6h0M553.0 140.5h0M595.2 67.1h0M596.3 67.8h0M570.4 98.9h0M578.2 123.3h0M608.5 64.1h0M624.7 41.2h0" stroke="#40732f"/><path d="M574.3 119.8h0M608.7 61.4h0M631.0 67.0h0M558.6 101.6h0M638.5 59.9h0M648.3 54.9h0" stroke="#567e30"/><path d="M602.1 70.3h0M564.8 96.9h0M557.6 131.7h0M564.0 123.7h0M547.7 109.1h0M566.6 129.8h0M590.8 104.8h0" stroke="#6b8930"/><path d="M615.2 60.1h0M589.0 76.9h0M564.1 129.6h0M663.7 40.3h0M553.4 143.5h0M547.9 123.5h0M549.5 141.4h0M624.5 48.1h0M658.1 45.6h0M614.4 82.8h0M568.7 110.3h0" stroke="#809530"/><path d="M574.5 117.5h0M643.0 51.9h0M665.5 26.6h0M649.7 51.1h0M592.5 78.9h0M588.6 105.1h0M648.7 32.4h0M603.6 75.3h0M555.5 116.2h0M646.0 32.8h0M566.6 118.7h0M626.7 70.1h0" stroke="#939f30"/><path d="M577.3 98.2h0M625.0 57.3h0M579.6 105.7h0M594.0 97.5h0M550.8 137.2h0M552.1 137.4h0M613.0 76.6h0M583.0 87.9h0M657.5 43.5h0M546.4 115.0h0M607.4 69.1h0M601.6 83.3h0M586.8 104.7h0M539.3 144.7h0" stroke="#a1a530"/><path d="M554.0 110.3h0M654.2 43.9h0M657.1 40.2h0M651.5 45.1h0M570.1 114.9h0M546.1 137.9h0M651.6 46.2h0M619.6 74.5h0M570.9 103.9h0M560.6 118.7h0M663.8 34.2h0M567.3 114.3h0M588.2 102.5h0" stroke="#aeab30"/><path d="M645.7 36.6h0M605.9 80.3h0M601.1 88.8h0M630.9 47.2h0M557.1 123.4h0M563.7 115.7h0M598.3 82.6h0M596.1 98.0h0M650.3 38.0h0" stroke="#bcb130"/><path d="M557.1 121.5h0M567.7 106.5h0M583.5 101.0h0M659.4 25.6h0M607.5 92.2h0M549.7 127.3h0M561.5 124.7h0M648.9 45.5h0M583.6 88.9h0M599.9 92.3h0M582.1 92.2h0M639.6 39.5h0" stroke="#c8b530"/><path d="M623.6 57.7h0M637.7 47.1h0M642.9 36.3h0M659.5 39.7h0M577.6 110.6h0" stroke="#d3b930"/><path d="M640.2 49.7h0M607.4 71.0h0M611.6 66.9h0M561.9 113.0h0M580.7 102.2h0M560.5 119.9h0M621.1 64.2h0M654.3 35.1h0" stroke="#debc30"/><path d="M563.6 114.4h0M649.1 47.6h0M586.5 86.1h0" stroke="#e5bd30"/><path d="M588.1 91.5h0M583.7 93.2h0" stroke="#e8bc30"/><path d="M663.8 30.0h0M663.6 29.2h0" stroke="#eabb30"/><path d="M650.6 45.6h0" stroke="#edaf30"/><path d="M568.6 81.3h0" stroke="#25612e"/><path d="M581.7 123.9h0M562.6 147.8h0M627.2 87.9h0" stroke="#2d692e"/><path d="M543.7 153.2h0M585.4 111.4h0M579.1 86.6h0M653.5 61.2h0M585.7 113.6h0" stroke="#40732f"/><path d="M627.6 50.1h0M609.4 62.6h0M626.8 71.4h0M608.7 93.9h0M586.9 77.4h0" stroke="#567e30"/><path d="M629.9 45.4h0M563.8 126.8h0M561.5 133.6h0M549.8 120.0h0M608.2 58.2h0M558.5 132.2h0M552.0 114.8h0M538.5 131.2h0M650.7 24.7h0M562.1 96.0h0M645.7 52.2h0" stroke="#6b8930"/><path d="M566.0 126.0h0M637.7 38.5h0M547.1 121.4h0M620.0 81.2h0M621.2 48.1h0M569.8 99.4h0M656.3 23.0h0M623.2 80.5h0" stroke="#809530"/><path d="M631.8 68.3h0M555.2 142.6h0M640.2 55.6h0M621.0 76.0h0M630.3 63.6h0M597.2 103.1h0M568.3 103.3h0M603.9 75.9h0M605.0 81.3h0M616.3 75.5h0M547.9 142.0h0M601.5 81.0h0M608.4 84.9h0M605.4 68.8h0M604.1 81.7h0" stroke="#939f30"/><path d="M573.3 108.3h0M569.6 112.7h0M615.3 85.6h0M629.3 46.7h0M555.0 126.6h0M613.8 81.0h0M539.0 136.2h0M641.9 55.9h0M549.3 124.6h0M594.8 81.6h0M619.7 75.3h0M585.1 97.3h0M556.2 114.1h0" stroke="#a1a530"/><path d="M583.9 102.7h0M661.3 40.9h0M591.6 83.9h0M568.3 112.9h0M655.8 41.3h0M613.7 78.1h0M653.6 25.1h0M597.1 78.1h0M570.8 116.5h0M582.3 89.8h0M565.6 118.5h0M632.3 64.0h0M582.5 99.8h0M633.4 48.5h0M603.6 98.0h0M617.4 61.0h0M606.5 75.8h0M555.8 125.1h0" stroke="#aeab30"/><path d="M576.4 109.1h0M570.1 113.4h0M551.0 111.4h0M560.4 125.0h0M546.0 116.1h0M539.5 131.1h0M660.5 31.6h0M657.7 29.3h0" stroke="#bcb130"/><path d="M635.2 59.8h0M538.6 144.3h0M598.7 88.1h0M655.2 38.5h0M644.1 47.8h0M630.8 53.7h0" stroke="#c8b530"/><path d="M585.5 96.2h0M555.5 122.8h0M631.6 60.1h0M657.3 29.9h0M606.9 72.9h0M586.4 89.2h0" stroke="#d3b930"/><path d="M619.2 68.6h0M595.2 84.9h0M575.8 111.0h0M566.9 102.8h0" stroke="#debc30"/><path d="M620.3 58.3h0M625.0 64.0h0M646.6 42.1h0M638.3 50.2h0M646.5 38.5h0M563.8 105.7h0M539.4 145.5h0M598.3 85.2h0" stroke="#e5bd30"/><path d="M587.9 101.5h0M651.3 37.2h0M565.2 115.5h0" stroke="#e8bc30"/><path d="M624.8 66.8h0M595.1 92.9h0M587.1 86.0h0M555.3 123.6h0" stroke="#eabb30"/><path d="M643.1 45.2h0M639.3 41.9h0" stroke="#ecb830"/><path d="M594.8 92.5h0M587.2 91.7h0" stroke="#edaf30"/><path d="M593.5 88.2h0M572.2 113.4h0" stroke="#ee9d30"/><path d="M590.7 94.2h0M593.2 92.0h0" stroke="#ef8730"/><path d="M551.3 160.5h0M630.0 89.6h0" stroke="#25612e"/><path d="M558.3 160.8h0M564.2 172.3h0M645.2 73.4h0M590.7 110.9h0" stroke="#2d692e"/><path d="M662.7 46.9h0M610.1 48.9h0M649.0 67.3h0M553.7 95.4h0M571.6 90.2h0M593.3 61.3h0M637.5 90.0h0M539.8 121.4h0" stroke="#40732f"/><path d="M566.0 135.6h0M543.0 154.3h0M660.0 44.8h0M575.9 95.4h0M602.5 67.0h0M644.0 69.5h0M572.8 100.1h0M613.2 51.4h0" stroke="#567e30"/><path d="M639.2 36.3h0M606.1 100.5h0M614.8 60.0h0M618.0 51.9h0M547.6 108.9h0M639.3 35.0h0M564.2 123.1h0M629.7 66.2h0M594.7 67.2h0M546.3 136.0h0" stroke="#6b8930"/><path d="M538.0 130.2h0M630.8 67.7h0M621.8 56.1h0M567.1 122.8h0M635.9 64.4h0M550.9 120.8h0M607.1 87.6h0M644.3 29.6h0" stroke="#809530"/><path d="M604.8 74.8h0M650.6 34.6h0M567.2 106.3h0M650.7 30.4h0M564.6 99.4h0M560.3 129.5h0M555.4 125.5h0M579.7 111.9h0M613.3 80.3h0M637.2 40.2h0M561.4 110.6h0M556.6 135.8h0M633.4 61.5h0M579.1 98.4h0M599.5 95.8h0" stroke="#939f30"/><path d="M659.6 39.0h0M573.9 118.1h0M547.1 127.9h0M615.6 81.7h0M542.0 128.2h0M654.2 26.0h0M593.5 101.6h0M589.7 103.1h0M636.4 47.5h0M627.6 50.7h0" stroke="#a1a530"/><path d="M593.3 103.3h0M651.2 41.8h0M618.0 66.0h0M614.5 83.0h0M591.5 97.2h0M611.2 78.7h0M583.0 103.5h0" stroke="#aeab30"/><path d="M614.8 71.6h0M654.7 25.1h0M574.7 104.5h0M582.9 89.6h0M622.0 68.5h0M617.1 76.3h0M650.4 47.0h0M620.0 55.7h0" stroke="#bcb130"/><path d="M665.6 30.0h0M631.0 60.5h0M605.9 73.0h0M627.3 60.7h0M547.2 118.4h0" stroke="#c8b530"/><path d="M575.5 106.3h0M647.9 45.6h0M619.2 62.7h0M600.5 86.3h0M539.7 147.2h0M584.3 98.4h0M627.5 55.4h0" stroke="#d3b930"/><path d="M625.3 54.6h0M617.3 65.6h0M656.3 25.2h0M573.2 106.9h0" stroke="#debc30"/><path d="M597.3 85.2h0M592.7 96.1h0M592.9 95.6h0M619.6 66.5h0M600.2 88.5h0M636.3 41.9h0M617.4 78.9h0M539.0 147.3h0M574.7 106.1h0" stroke="#e5bd30"/><path d="M593.3 89.7h0M609.3 69.1h0M619.6 60.4h0" stroke="#e8bc30"/><path d="M637.0 48.7h0M646.0 46.9h0M590.3 91.5h0M635.8 58.3h0M640.2 43.1h0" stroke="#eabb30"/><path d="M645.2 38.0h0M597.5 87.6h0M639.3 47.8h0M587.7 91.4h0M587.8 100.0h0" stroke="#ecb830"/><path d="M642.1 42.0h0M640.8 43.8h0" stroke="#edaf30"/><path d="M593.4 90.4h0" stroke="#eda630"/><path d="M621.0 61.5h0" stroke="#ee9d30"/><path d="M648.2 40.1h0" stroke="#ee9230"/><path d="M590.5 92.7h0M591.6 91.4h0" stroke="#f07130"/><path d="M544.0 190.5h0" stroke="#25612e"/><path d="M585.9 121.2h0M622.6 89.1h0M625.7 36.5h0M625.3 87.2h0M600.9 106.5h0" stroke="#2d692e"/><path d="M641.2 60.8h0M565.2 134.0h0M595.6 74.4h0M613.5 51.8h0M612.1 102.5h0M592.7 74.4h0" stroke="#40732f"/><path d="M562.6 95.3h0M642.9 55.6h0M611.2 89.2h0M634.6 70.3h0M546.0 147.7h0" stroke="#567e30"/><path d="M662.8 42.1h0M557.9 136.7h0M560.8 100.5h0M540.5 152.4h0M560.4 107.6h0" stroke="#6b8930"/><path d="M579.3 94.0h0M622.5 81.0h0M635.8 61.8h0M656.2 26.2h0M542.0 149.8h0M653.5 53.0h0M555.1 133.9h0M543.7 120.4h0M546.7 121.6h0M547.2 141.5h0M578.5 114.3h0M656.4 47.7h0" stroke="#809530"/><path d="M578.6 93.5h0M624.2 73.6h0M602.8 91.2h0M628.3 65.8h0M661.4 22.6h0M640.7 35.0h0M573.6 101.2h0M549.0 137.6h0M544.1 119.9h0M548.4 139.9h0M631.5 49.2h0" stroke="#939f30"/><path d="M563.1 111.2h0M616.4 78.9h0M543.9 130.8h0M652.6 47.6h0M651.9 32.8h0M565.4 103.4h0M657.0 25.5h0M644.5 32.2h0M563.2 105.4h0M597.7 78.7h0" stroke="#a1a530"/><path d="M541.2 141.3h0M655.2 39.7h0M552.8 120.5h0M614.8 82.7h0M585.9 88.5h0M578.1 98.7h0M605.0 97.8h0M611.2 75.7h0M585.4 106.6h0M583.2 101.0h0M658.2 24.9h0M662.1 23.4h0M604.9 72.6h0M577.6 110.0h0M558.0 110.5h0M617.1 77.9h0M595.1 101.9h0M565.5 104.8h0M631.9 50.6h0" stroke="#aeab30"/><path d="M544.8 137.6h0M620.3 61.3h0M626.2 53.1h0M543.3 128.5h0M579.1 103.8h0M600.6 88.9h0M654.2 50.3h0M556.2 122.7h0M550.4 125.3h0" stroke="#bcb130"/><path d="M621.0 60.0h0M655.3 36.1h0M561.8 120.6h0M588.7 85.9h0M555.8 117.3h0M569.8 108.5h0M608.6 77.2h0M662.1 34.3h0M557.7 114.9h0M634.0 52.2h0" stroke="#c8b530"/><path d="M635.3 56.5h0M640.6 40.3h0M615.5 65.8h0M625.8 56.2h0M559.2 118.2h0M625.6 61.5h0" stroke="#d3b930"/><path d="M659.5 24.2h0M658.6 34.8h0M630.8 53.7h0M664.9 24.1h0M638.4 49.0h0M572.8 113.4h0M615.8 68.5h0" stroke="#debc30"/><path d="M658.0 28.5h0M629.8 51.9h0M587.9 95.2h0M590.1 92.5h0" stroke="#e5bd30"/><path d="M661.3 27.8h0M542.4 134.1h0" stroke="#e8bc30"/><path d="M624.4 52.2h0M598.8 92.8h0M614.9 65.1h0" stroke="#eabb30"/><path d="M590.3 92.1h0M635.1 54.0h0" stroke="#ecb830"/><path d="M632.9 54.1h0" stroke="#edaf30"/><path d="M661.8 28.0h0" stroke="#eda630"/><path d="M595.0 89.1h0M625.3 63.5h0" stroke="#ee9d30"/><path d="M637.4 47.3h0M662.1 30.5h0" stroke="#ee9230"/><path d="M645.3 40.3h0" stroke="#ef8730"/><path d="M620.4 60.1h0" stroke="#f07130"/><path d="M603.7 115.1h0M626.9 95.0h0" stroke="#25612e"/><path d="M559.8 144.1h0M549.9 145.3h0M576.0 78.0h0" stroke="#2d692e"/><path d="M635.0 71.6h0M561.9 91.2h0M594.9 71.4h0M644.5 70.1h0M547.3 98.7h0" stroke="#40732f"/><path d="M538.2 126.4h0M538.5 127.9h0M621.4 48.5h0" stroke="#567e30"/><path d="M602.0 99.0h0M563.5 118.9h0M613.6 86.4h0M575.3 104.0h0M593.2 78.6h0M592.7 83.4h0M608.4 56.9h0M555.0 133.6h0M597.3 101.3h0M618.7 73.6h0M545.0 121.4h0" stroke="#6b8930"/><path d="M590.0 75.7h0M553.6 115.1h0M595.3 103.5h0M571.4 120.4h0M569.0 126.5h0M554.5 142.5h0M538.9 135.5h0" stroke="#809530"/><path d="M630.2 48.7h0M575.5 113.5h0M540.1 128.3h0M604.7 87.3h0M611.1 66.1h0M602.5 71.1h0M620.9 78.0h0M632.9 64.3h0" stroke="#939f30"/><path d="M616.7 74.0h0M627.4 52.2h0M558.1 124.0h0M576.4 103.5h0M610.4 78.3h0M637.1 53.1h0M612.5 66.8h0M584.0 96.6h0M627.1 63.9h0M581.7 104.5h0M568.9 109.7h0" stroke="#a1a530"/><path d="M645.0 38.8h0M659.8 38.1h0M617.0 75.7h0M649.2 46.7h0M655.3 29.6h0M556.2 111.1h0M653.0 36.7h0M551.5 114.7h0M574.4 101.5h0" stroke="#aeab30"/><path d="M607.7 78.5h0M652.6 36.5h0M590.6 102.0h0M615.7 69.6h0M635.1 51.7h0M562.4 98.7h0M625.9 62.6h0M589.5 99.0h0M612.5 74.0h0M583.5 104.1h0M653.5 26.4h0M614.8 73.7h0M609.8 74.4h0" stroke="#bcb130"/><path d="M623.1 72.1h0M605.9 96.2h0M639.3 50.4h0M588.9 100.6h0M549.2 128.2h0M621.2 70.6h0M610.7 73.2h0M635.8 48.2h0" stroke="#c8b530"/><path d="M652.2 30.9h0M613.3 70.4h0M571.8 113.6h0M618.6 59.3h0M586.3 87.6h0M642.7 39.6h0M599.8 91.9h0" stroke="#d3b930"/><path d="M636.8 53.6h0M595.4 96.4h0M597.9 93.9h0M627.3 63.2h0M620.5 64.3h0" stroke="#debc30"/><path d="M664.9 25.4h0M619.7 59.4h0M645.3 46.5h0M654.2 46.9h0M647.9 44.0h0M646.1 43.7h0M645.7 38.4h0" stroke="#e5bd30"/><path d="M628.5 59.9h0M654.2 27.6h0M591.1 97.1h0M649.8 39.4h0M631.9 57.1h0M646.4 39.5h0M588.9 87.4h0M542.9 133.2h0M628.8 60.3h0M649.2 37.8h0M632.5 57.9h0" stroke="#e8bc30"/><path d="M634.6 55.7h0M623.2 66.1h0M586.4 90.8h0" stroke="#eabb30"/><path d="M662.9 28.3h0" stroke="#ecb830"/><path d="M629.4 60.2h0M587.6 96.1h0" stroke="#edaf30"/><path d="M644.2 42.3h0M641.9 40.9h0M641.9 41.7h0" stroke="#eda630"/><path d="M646.1 39.2h0" stroke="#ee9d30"/><path d="M624.3 61.7h0M658.9 29.6h0" stroke="#ee9230"/><path d="M588.1 92.1h0" stroke="#f07c30"/><path d="M647.6 39.0h0" stroke="#f43b30"/><path d="M591.6 92.1h0" stroke="#fe1c2a"/></g>
</g>
<line x1="415.20" y1="255.99" x2="663.92" y2="26.01" stroke="#1010ee" stroke-width="2"/>
<line x1="393.00" y1="260.40" x2="675.80" y2="23.40" stroke="#000" stroke-width="2.2" stroke-dasharray="8.7,8.64" stroke-dashoffset="3.8"/>
<rect x="393.0" y="23.4" width="282.79999999999995" height="236.99999999999997" fill="none" stroke="#262626" stroke-width="1.3"/>
<line x1="393.00" y1="260.4" x2="393.00" y2="265.4" stroke="#262626" stroke-width="1.2"/>
<line x1="388.0" y1="260.40" x2="393.0" y2="260.40" stroke="#262626" stroke-width="1.2"/>
<text x="391.20" y="276.00" font-size="11.5" text-anchor="middle" font-weight="bold" fill="#000" stroke="#000" stroke-width="0.22">0.00</text>
<text x="384.80" y="263.70" font-size="11.5" text-anchor="end" font-weight="bold" fill="#000" stroke="#000" stroke-width="0.22">0.00</text>
<line x1="428.35" y1="260.4" x2="428.35" y2="263.4" stroke="#262626" stroke-width="1.2"/>
<line x1="390.0" y1="230.77" x2="393.0" y2="230.77" stroke="#262626" stroke-width="1.2"/>
<line x1="463.70" y1="260.4" x2="463.70" y2="265.4" stroke="#262626" stroke-width="1.2"/>
<line x1="388.0" y1="201.15" x2="393.0" y2="201.15" stroke="#262626" stroke-width="1.2"/>
<text x="461.90" y="276.00" font-size="11.5" text-anchor="middle" font-weight="bold" fill="#000" stroke="#000" stroke-width="0.22">0.25</text>
<text x="384.80" y="204.45" font-size="11.5" text-anchor="end" font-weight="bold" fill="#000" stroke="#000" stroke-width="0.22">0.25</text>
<line x1="499.05" y1="260.4" x2="499.05" y2="263.4" stroke="#262626" stroke-width="1.2"/>
<line x1="390.0" y1="171.52" x2="393.0" y2="171.52" stroke="#262626" stroke-width="1.2"/>
<line x1="534.40" y1="260.4" x2="534.40" y2="265.4" stroke="#262626" stroke-width="1.2"/>
<line x1="388.0" y1="141.90" x2="393.0" y2="141.90" stroke="#262626" stroke-width="1.2"/>
<text x="532.60" y="276.00" font-size="11.5" text-anchor="middle" font-weight="bold" fill="#000" stroke="#000" stroke-width="0.22">0.50</text>
<text x="384.80" y="145.20" font-size="11.5" text-anchor="end" font-weight="bold" fill="#000" stroke="#000" stroke-width="0.22">0.50</text>
<line x1="569.75" y1="260.4" x2="569.75" y2="263.4" stroke="#262626" stroke-width="1.2"/>
<line x1="390.0" y1="112.28" x2="393.0" y2="112.28" stroke="#262626" stroke-width="1.2"/>
<line x1="605.10" y1="260.4" x2="605.10" y2="265.4" stroke="#262626" stroke-width="1.2"/>
<line x1="388.0" y1="82.65" x2="393.0" y2="82.65" stroke="#262626" stroke-width="1.2"/>
<text x="603.30" y="276.00" font-size="11.5" text-anchor="middle" font-weight="bold" fill="#000" stroke="#000" stroke-width="0.22">0.75</text>
<text x="384.80" y="85.95" font-size="11.5" text-anchor="end" font-weight="bold" fill="#000" stroke="#000" stroke-width="0.22">0.75</text>
<line x1="640.45" y1="260.4" x2="640.45" y2="263.4" stroke="#262626" stroke-width="1.2"/>
<line x1="390.0" y1="53.03" x2="393.0" y2="53.03" stroke="#262626" stroke-width="1.2"/>
<line x1="675.80" y1="260.4" x2="675.80" y2="265.4" stroke="#262626" stroke-width="1.2"/>
<line x1="388.0" y1="23.40" x2="393.0" y2="23.40" stroke="#262626" stroke-width="1.2"/>
<text x="674.00" y="276.00" font-size="11.5" text-anchor="middle" font-weight="bold" fill="#000" stroke="#000" stroke-width="0.22">1.00</text>
<text x="384.80" y="26.70" font-size="11.5" text-anchor="end" font-weight="bold" fill="#000" stroke="#000" stroke-width="0.22">1.00</text>
<text transform="translate(359.8,141.90) rotate(-90)" font-size="16.9" text-anchor="middle" font-weight="bold" stroke="#000" stroke-width="0.22">Microbial NUE observed</text>
<text x="534.40" y="295.30" font-size="16.9" text-anchor="middle" font-weight="bold" fill="#000" stroke="#000" stroke-width="0.22">Microbial NUE predicted</text>
<text x="636.20" y="175.00" font-size="11" text-anchor="middle" font-weight="bold" fill="#000" stroke="#000" stroke-width="0.22">Count</text>
<rect x="625.3" y="180.30" width="20.2" height="3.46" fill="#fd1f2c"/><rect x="625.3" y="182.76" width="20.2" height="3.46" fill="#f8282f"/><rect x="625.3" y="185.22" width="20.2" height="3.46" fill="#f53430"/><rect x="625.3" y="187.68" width="20.2" height="3.46" fill="#f34230"/><rect x="625.3" y="190.14" width="20.2" height="3.46" fill="#f14f30"/><rect x="625.3" y="192.60" width="20.2" height="3.46" fill="#f05b30"/><rect x="625.3" y="195.06" width="20.2" height="3.46" fill="#f06530"/><rect x="625.3" y="197.52" width="20.2" height="3.46" fill="#f07030"/><rect x="625.3" y="199.98" width="20.2" height="3.46" fill="#f07a30"/><rect x="625.3" y="202.44" width="20.2" height="3.46" fill="#ef8630"/><rect x="625.3" y="204.90" width="20.2" height="3.46" fill="#ee9230"/><rect x="625.3" y="207.36" width="20.2" height="3.46" fill="#ee9d30"/><rect x="625.3" y="209.82" width="20.2" height="3.46" fill="#eda730"/><rect x="625.3" y="212.28" width="20.2" height="3.46" fill="#edb130"/><rect x="625.3" y="214.74" width="20.2" height="3.46" fill="#ecba30"/><rect x="625.3" y="217.20" width="20.2" height="3.46" fill="#e9bb30"/><rect x="625.3" y="219.66" width="20.2" height="3.46" fill="#e7bd30"/><rect x="625.3" y="222.12" width="20.2" height="3.46" fill="#e4be30"/><rect x="625.3" y="224.58" width="20.2" height="3.46" fill="#d8ba30"/><rect x="625.3" y="227.04" width="20.2" height="3.46" fill="#ccb630"/><rect x="625.3" y="229.50" width="20.2" height="3.46" fill="#c0b230"/><rect x="625.3" y="231.96" width="20.2" height="3.46" fill="#b1ac30"/><rect x="625.3" y="234.42" width="20.2" height="3.46" fill="#a3a630"/><rect x="625.3" y="236.88" width="20.2" height="3.46" fill="#95a030"/><rect x="625.3" y="239.34" width="20.2" height="3.46" fill="#809530"/><rect x="625.3" y="241.80" width="20.2" height="3.46" fill="#6b8930"/><rect x="625.3" y="244.26" width="20.2" height="3.46" fill="#547d30"/><rect x="625.3" y="246.72" width="20.2" height="3.46" fill="#3d712f"/><rect x="625.3" y="249.18" width="20.2" height="3.46" fill="#2b672e"/><rect x="625.3" y="251.64" width="20.2" height="3.46" fill="#235e2e"/><rect x="625.3" y="180.3" width="20.2" height="73.8" fill="none" stroke="#333" stroke-width="1"/>
<text x="650.00" y="188.70" font-size="10.5" text-anchor="start" font-weight="bold" fill="#000" stroke="#000" stroke-width="0.22">40</text>
<text x="650.00" y="204.05" font-size="10.5" text-anchor="start" font-weight="bold" fill="#000" stroke="#000" stroke-width="0.22">30</text>
<text x="650.00" y="219.40" font-size="10.5" text-anchor="start" font-weight="bold" fill="#000" stroke="#000" stroke-width="0.22">20</text>
<text x="650.00" y="234.75" font-size="10.5" text-anchor="start" font-weight="bold" fill="#000" stroke="#000" stroke-width="0.22">10</text>
<text x="400.3" y="337.80" font-size="13.4" fill="#561f1f" stroke="#561f1f" stroke-width="0.15"><tspan font-style="italic">F</tspan>(1, 13658) = 61590.2</text>
<text x="400.3" y="361.10" font-size="13.4" fill="#111" stroke="#111" stroke-width="0.15"><tspan font-style="italic">β</tspan> = 1.08 <tspan fill="#999" stroke="#999">(95% CI: 1.07-1.09)</tspan></text>
<text x="400.3" y="384.40" font-size="13.4" fill="#111" stroke="#111" stroke-width="0.15"><tspan font-style="italic">R</tspan><tspan font-size="7.5" dy="-6">2</tspan><tspan dy="6"> = 0.82</tspan></text>
<text x="400.3" y="407.70" font-size="13.4" fill="#111" stroke="#111" stroke-width="0.15"><tspan font-style="italic">p</tspan> &lt; 0.0001</text>
<clipPath id="cd"><rect x="392.6" y="320.4" width="284.29999999999995" height="238.39999999999998"/></clipPath>
<g clip-path="url(#cd)">
<g fill="none" stroke-width="4.30" stroke-linecap="round"><path d="M573.8 341.6h0M601.6 417.8h0M620.9 423.3h0" stroke="#25612e"/><path d="M551.9 459.9h0M439.0 546.2h0M642.9 359.8h0M611.6 334.6h0M502.7 498.5h0M518.7 490.0h0M524.3 482.5h0M603.9 342.5h0M534.3 490.3h0M629.6 381.1h0M467.2 527.8h0M504.8 511.1h0M650.1 360.6h0M500.6 452.9h0M534.7 421.0h0M610.5 339.0h0M653.3 319.5h0M512.8 553.8h0M498.3 517.7h0M545.2 403.0h0M622.3 328.2h0M653.6 345.5h0M616.7 329.5h0M486.8 518.9h0M492.4 499.4h0M457.7 484.1h0M489.2 454.0h0M561.3 370.9h0M514.2 500.5h0M497.1 504.4h0M511.6 522.7h0M572.0 330.7h0M486.0 508.7h0M504.6 508.4h0M552.0 473.9h0M538.1 327.6h0M511.6 486.1h0M646.1 380.7h0M537.5 412.5h0M649.7 320.2h0M633.3 330.5h0M549.2 458.2h0M465.2 530.9h0M543.8 455.1h0M426.8 519.5h0M540.4 387.6h0M589.5 333.2h0M429.0 515.3h0M487.0 461.1h0M461.5 469.1h0M480.0 530.3h0" stroke="#2d692e"/><path d="M547.7 465.1h0M402.5 536.1h0M609.6 332.9h0M559.5 389.1h0M439.0 509.0h0M540.6 378.5h0M516.8 477.9h0M646.4 321.5h0M559.5 458.1h0M584.2 376.1h0M607.2 333.2h0M502.7 474.7h0M543.6 406.9h0M570.2 416.1h0M483.6 469.8h0M597.4 367.6h0M556.1 456.5h0M512.5 475.4h0M466.9 479.8h0M534.8 425.2h0M540.9 470.3h0M521.5 414.2h0M564.0 350.1h0M586.4 350.1h0M458.5 529.3h0M517.1 505.9h0M600.4 409.9h0M518.7 431.4h0M420.9 522.3h0M586.4 366.3h0M593.4 359.9h0M559.4 382.7h0M458.4 536.5h0M526.8 445.9h0M523.5 398.9h0M599.4 347.9h0M509.9 441.3h0" stroke="#40732f"/><path d="M524.0 490.0h0M591.3 371.1h0M616.2 344.1h0M577.2 425.4h0M611.9 384.0h0M540.4 440.0h0M537.5 443.8h0M572.5 361.9h0M598.5 397.7h0M535.3 397.8h0M463.3 520.0h0M559.5 403.3h0M501.8 497.3h0M413.3 536.8h0M459.1 533.6h0M494.3 475.7h0M542.0 442.1h0M509.9 440.1h0M562.5 440.0h0M530.1 408.1h0M553.1 404.2h0M594.0 376.8h0M522.0 471.0h0M468.5 513.7h0M522.1 409.6h0M493.1 455.6h0M548.7 387.3h0M496.3 486.2h0M495.0 454.7h0M582.2 412.9h0M646.4 322.8h0M498.4 495.3h0M578.8 376.4h0M466.9 519.3h0M497.4 531.2h0M530.6 485.0h0M592.6 402.0h0M591.1 395.0h0M526.9 401.2h0M534.9 464.4h0M454.6 532.7h0M526.4 429.0h0M543.0 444.9h0" stroke="#567e30"/><path d="M469.1 483.0h0M410.4 558.3h0M418.8 554.6h0M513.7 432.0h0M439.5 537.3h0M636.0 361.1h0M435.4 514.2h0M473.5 496.8h0M628.8 370.9h0M444.7 534.9h0M557.5 398.5h0M552.7 458.5h0M556.3 440.9h0M540.6 392.3h0M552.2 430.1h0M574.9 383.8h0M647.8 325.1h0M602.7 342.3h0M526.2 414.3h0M463.0 486.3h0M513.2 437.8h0M508.5 470.9h0M539.6 411.4h0M570.8 387.8h0M464.9 519.1h0M490.2 500.9h0M499.1 472.3h0M539.8 444.5h0M475.9 469.3h0M473.1 515.3h0M446.6 502.9h0M440.1 539.6h0M596.0 375.2h0M540.7 434.2h0M565.7 382.7h0M496.4 460.2h0M603.5 386.3h0M649.1 348.4h0M552.2 422.3h0" stroke="#6b8930"/><path d="M551.2 405.9h0M531.8 458.5h0M632.6 342.2h0M538.0 439.2h0M552.5 436.1h0M599.2 400.1h0M426.7 545.0h0M656.3 320.3h0M536.9 470.5h0M406.7 558.7h0M552.5 408.7h0M569.2 416.0h0M533.4 424.2h0M572.7 385.1h0M497.0 474.1h0M606.3 385.9h0M543.7 415.8h0M551.7 383.4h0M510.6 470.8h0M569.1 386.5h0M428.9 545.6h0M506.3 483.0h0M530.3 448.7h0M479.9 505.9h0M631.9 338.9h0M597.6 364.2h0M502.6 450.8h0M535.0 438.7h0M607.3 386.1h0M475.4 512.1h0M419.1 555.9h0M455.5 526.3h0M578.6 408.4h0" stroke="#809530"/><path d="M619.3 345.0h0M514.9 476.7h0M517.7 466.2h0M598.9 369.7h0M630.5 365.1h0M572.0 390.1h0M554.2 423.7h0M409.6 540.6h0M548.8 404.9h0M414.5 537.3h0M497.6 475.2h0M559.4 397.5h0M601.9 391.4h0M620.7 345.8h0M614.4 383.9h0M474.9 498.9h0M525.9 473.3h0" stroke="#939f30"/><path d="M573.1 378.0h0M661.8 331.7h0M571.4 422.5h0M647.2 346.8h0M615.7 361.0h0M540.5 422.1h0M490.2 471.6h0M550.7 404.0h0M410.0 539.8h0" stroke="#a1a530"/><path d="M513.3 469.8h0M492.8 461.5h0M500.9 475.7h0M499.0 470.2h0M459.0 521.3h0M564.9 424.0h0M528.2 428.7h0M587.5 381.7h0" stroke="#aeab30"/><path d="M620.8 349.2h0M646.6 352.6h0M622.9 374.8h0" stroke="#bcb130"/><path d="M572.1 393.1h0" stroke="#c8b530"/><path d="M489.8 476.2h0" stroke="#d3b930"/><path d="M540.2 450.4h0M458.1 553.5h0M492.8 505.8h0M576.9 435.2h0M527.4 395.9h0M536.0 409.3h0M576.2 368.0h0M596.2 359.1h0M502.3 482.6h0M442.3 548.9h0M538.1 405.3h0M415.9 531.0h0M407.1 531.1h0M594.7 347.4h0M441.8 540.6h0M521.9 527.0h0M573.3 429.5h0M402.5 545.8h0M433.0 546.2h0M599.9 337.1h0M622.5 339.9h0M446.1 506.4h0M588.0 369.5h0M586.9 454.9h0M433.8 511.0h0M500.4 519.3h0M485.3 546.2h0M519.7 508.4h0M639.1 368.5h0M453.6 552.5h0M539.0 462.6h0" stroke="#2d692e"/><path d="M578.1 380.6h0M559.7 439.3h0M578.5 349.0h0M569.8 427.0h0M562.6 382.5h0M546.3 473.0h0M457.7 528.6h0M557.4 444.3h0M491.4 516.0h0M541.8 433.3h0M537.6 526.1h0M562.8 430.7h0M565.6 430.7h0M538.4 427.5h0M584.3 406.1h0M550.2 374.6h0M498.4 533.5h0M523.6 491.2h0M508.5 500.7h0M634.4 356.9h0M445.4 510.7h0M598.9 348.6h0M520.3 428.4h0M559.6 398.0h0M495.5 519.9h0M555.5 406.3h0M530.5 412.2h0M605.5 351.3h0M641.7 326.5h0M575.8 352.6h0M485.0 462.7h0M520.2 483.4h0M565.6 427.5h0M620.4 336.1h0M558.3 374.9h0M590.8 371.2h0M444.3 508.4h0M499.8 492.5h0" stroke="#40732f"/><path d="M542.4 447.2h0M503.7 447.5h0M510.9 478.2h0M539.5 446.9h0M640.3 329.2h0M505.3 493.7h0M482.4 467.1h0M547.6 409.4h0M487.6 469.2h0M516.9 423.5h0M460.6 487.7h0M528.9 467.1h0M463.4 483.4h0M447.5 499.1h0M472.2 517.8h0M559.2 439.8h0M489.1 464.5h0M461.3 479.9h0M585.4 352.1h0M562.6 376.5h0M486.1 472.6h0M522.2 482.1h0M551.7 442.1h0M592.3 388.8h0M501.0 448.7h0M522.9 427.1h0M542.4 437.5h0M514.1 432.1h0M504.1 440.9h0M553.2 433.3h0M407.6 558.6h0M539.2 426.4h0M545.7 443.7h0M601.4 359.5h0M573.4 360.4h0M582.5 403.5h0M531.3 428.1h0M565.9 432.9h0M523.3 409.2h0M550.0 440.1h0M612.3 349.0h0" stroke="#567e30"/><path d="M532.3 462.9h0M481.1 469.1h0M464.3 483.4h0M518.4 419.5h0M567.2 406.7h0M507.2 485.0h0M558.4 417.7h0M529.0 408.2h0M516.4 420.5h0M551.7 443.2h0M637.3 334.8h0M517.8 496.9h0M552.2 428.1h0M555.9 433.5h0M464.9 491.0h0M604.7 351.9h0M519.6 418.8h0M503.7 495.0h0M618.3 385.1h0M516.0 505.0h0M549.6 443.6h0M446.2 534.8h0M517.1 419.5h0M519.9 419.7h0M516.1 478.9h0M648.5 350.8h0M607.8 396.4h0M537.2 435.6h0M474.3 500.1h0M624.6 371.6h0M465.8 483.3h0M548.8 442.4h0M536.5 441.2h0M589.1 404.0h0M580.0 380.2h0M473.0 516.1h0M544.9 452.4h0M521.8 429.8h0M495.6 458.1h0" stroke="#6b8930"/><path d="M543.0 397.3h0M468.6 517.5h0M473.7 482.6h0M532.8 432.4h0M533.9 475.3h0M573.4 386.8h0M577.3 407.9h0M512.8 450.4h0M500.2 497.0h0M547.6 384.3h0M634.7 358.0h0M513.0 443.2h0M530.9 460.5h0M566.5 373.3h0M533.9 471.4h0M461.3 490.5h0M528.3 450.4h0M551.0 424.9h0M521.4 465.9h0M584.2 412.9h0M638.1 337.5h0M471.3 507.8h0M561.2 419.3h0M470.1 490.5h0M572.4 424.1h0M573.8 377.5h0M625.2 371.3h0M536.1 418.0h0" stroke="#809530"/><path d="M592.8 378.6h0M435.7 542.2h0M461.7 492.0h0M554.9 430.3h0M495.6 484.9h0M600.1 364.2h0M554.8 429.1h0M497.6 476.0h0M461.5 521.6h0M496.6 491.7h0M638.6 353.8h0M648.9 324.3h0M531.4 439.5h0M462.8 493.5h0M579.8 406.0h0" stroke="#939f30"/><path d="M511.7 443.1h0M494.0 465.6h0M661.8 322.7h0M623.6 346.7h0M622.9 348.5h0M655.7 320.8h0M575.5 392.6h0M496.5 457.9h0M551.5 436.3h0M580.2 382.7h0M421.2 550.0h0M564.6 401.0h0M573.9 384.0h0M471.8 502.0h0M597.3 400.8h0" stroke="#a1a530"/><path d="M489.8 477.0h0M467.9 493.8h0M453.8 521.6h0M575.1 383.2h0M550.4 421.5h0M546.9 385.2h0M444.2 513.3h0M632.9 359.4h0M525.6 426.3h0M494.0 483.9h0M661.7 323.3h0" stroke="#aeab30"/><path d="M513.5 452.3h0M661.5 330.1h0M565.7 412.5h0M661.7 321.3h0M602.9 359.4h0M662.0 326.5h0M447.0 532.4h0" stroke="#bcb130"/><path d="M515.5 442.7h0M600.7 369.5h0M662.2 332.6h0M450.4 524.2h0M404.1 558.6h0M567.2 403.5h0M539.5 421.5h0M623.6 347.2h0M584.5 377.0h0" stroke="#c8b530"/><path d="M597.4 385.4h0" stroke="#d3b930"/><path d="M502.1 472.0h0M403.4 558.1h0" stroke="#debc30"/><path d="M569.5 412.4h0" stroke="#e5bd30"/><path d="M508.0 457.1h0M626.5 369.3h0" stroke="#e8bc30"/><path d="M616.2 364.9h0M614.7 362.9h0M513.5 445.9h0" stroke="#eabb30"/><path d="M524.7 427.3h0" stroke="#ecb830"/><path d="M624.3 386.5h0" stroke="#25612e"/><path d="M584.5 416.6h0M534.5 459.4h0M495.4 521.0h0M479.6 509.8h0M497.8 452.2h0M559.7 341.3h0M491.3 517.4h0M527.7 358.0h0M513.4 346.5h0M566.5 369.4h0M454.4 485.8h0M552.8 455.5h0M541.3 467.5h0M627.1 329.2h0M571.7 357.2h0M519.6 501.9h0M626.6 332.8h0M551.5 398.1h0M600.0 344.7h0M545.0 466.1h0M446.1 470.2h0M450.1 543.2h0M550.5 390.3h0M590.0 326.0h0M649.7 355.4h0M546.1 470.4h0M522.0 469.6h0M539.6 374.8h0M595.7 427.0h0M580.4 431.7h0M531.1 481.5h0M521.6 478.6h0M475.7 517.4h0M455.2 541.1h0" stroke="#2d692e"/><path d="M516.1 506.4h0M421.4 522.2h0M578.9 335.5h0M449.4 491.9h0M607.8 346.3h0M592.1 367.4h0M421.0 555.4h0M456.5 489.3h0M559.9 436.5h0M512.9 410.5h0M543.8 450.3h0M455.3 530.8h0M568.4 380.1h0M513.7 421.1h0M483.3 474.0h0M607.3 382.2h0M603.1 335.2h0M520.2 431.1h0M401.8 551.2h0M427.1 549.9h0M534.6 412.6h0M571.3 378.9h0M536.2 455.6h0M511.0 491.7h0M564.7 372.3h0M588.0 417.3h0M504.1 454.6h0M590.6 397.8h0M603.9 353.8h0M554.9 435.9h0" stroke="#40732f"/><path d="M562.1 428.7h0M627.0 336.6h0M553.6 452.5h0M522.3 487.8h0M563.8 420.4h0M564.6 376.7h0M536.3 414.9h0M626.5 372.9h0M415.5 556.1h0M614.9 342.6h0M537.6 445.0h0M502.2 486.6h0M639.9 356.6h0M586.0 412.0h0M544.6 473.3h0M436.1 514.7h0M511.9 411.2h0M445.6 509.3h0M619.8 383.6h0M513.4 433.2h0M553.7 433.6h0M557.6 377.3h0M519.5 470.1h0M561.7 400.7h0M598.4 394.7h0M467.1 490.9h0M505.8 440.3h0M537.2 428.8h0M532.3 463.1h0M505.9 495.0h0M631.6 365.7h0M504.4 442.2h0M581.5 370.8h0M557.7 391.5h0M504.4 485.8h0M597.3 362.6h0M421.6 551.9h0M566.0 375.7h0M505.6 472.7h0M561.9 421.7h0" stroke="#567e30"/><path d="M522.4 487.3h0M570.5 381.8h0M617.5 346.7h0M521.4 433.4h0M438.0 512.4h0M554.0 380.0h0M525.0 467.1h0M591.5 389.5h0M555.9 375.3h0M548.3 413.5h0M608.0 350.4h0M577.2 423.8h0M625.8 337.4h0M588.5 403.8h0M559.1 391.9h0M518.5 437.0h0M581.0 376.8h0M430.8 529.2h0M519.6 496.8h0M532.8 470.1h0M472.3 486.9h0M546.3 451.0h0M529.4 445.5h0M510.1 480.6h0M526.1 476.7h0M509.8 452.7h0M495.4 500.8h0M559.5 429.5h0M555.3 402.1h0M524.7 449.8h0M451.9 495.6h0M538.9 420.2h0M617.0 385.6h0M535.4 416.9h0" stroke="#6b8930"/><path d="M632.3 333.2h0M531.0 467.8h0M543.2 386.4h0M575.0 376.7h0M472.2 510.9h0M575.4 391.7h0M639.2 335.3h0M557.4 430.1h0M569.4 420.9h0M470.9 479.5h0M496.3 492.5h0M450.2 526.2h0M452.7 496.6h0M573.6 425.2h0M542.9 428.9h0M657.3 320.7h0M611.9 352.8h0M616.0 348.3h0M454.3 497.4h0M417.4 534.1h0M428.6 532.6h0" stroke="#809530"/><path d="M574.5 380.7h0M565.6 408.2h0M501.6 492.6h0M584.6 387.5h0M513.0 470.5h0M600.2 362.9h0M580.1 378.6h0M617.6 381.9h0M528.8 431.2h0M404.1 543.6h0M614.3 386.8h0M412.5 557.4h0M615.2 387.5h0M571.8 398.5h0M490.9 468.5h0M431.4 518.6h0M551.2 416.6h0M650.4 347.0h0M545.0 384.9h0M559.4 427.7h0M559.2 420.0h0M499.4 460.1h0" stroke="#939f30"/><path d="M599.9 390.6h0M615.0 383.5h0M611.7 381.7h0M433.9 535.4h0M426.1 524.4h0M467.8 485.4h0M614.3 359.2h0M616.4 357.7h0M431.3 518.6h0M534.6 468.0h0M612.9 345.4h0M419.0 534.6h0M568.2 401.3h0M624.9 378.4h0M470.8 511.6h0M618.6 350.0h0M455.0 523.8h0M622.3 375.6h0M579.2 378.6h0M624.9 360.4h0M466.5 514.6h0M509.8 469.9h0M509.5 454.9h0M632.9 338.4h0M405.0 546.0h0" stroke="#a1a530"/><path d="M575.9 381.9h0M449.9 500.3h0M623.1 370.6h0M471.7 503.1h0M470.9 507.9h0M658.8 320.4h0M634.9 359.6h0M450.9 500.9h0M468.1 501.8h0M629.5 364.5h0M626.8 358.9h0M533.2 476.8h0M606.4 359.9h0" stroke="#aeab30"/><path d="M426.7 525.3h0M645.2 352.0h0M567.7 419.2h0M575.4 377.9h0M549.6 421.2h0M439.2 515.3h0M599.5 384.2h0M453.0 520.3h0" stroke="#bcb130"/><path d="M476.8 498.5h0M601.3 371.5h0M626.2 367.5h0M446.0 520.4h0M639.7 338.6h0" stroke="#c8b530"/><path d="M626.8 367.0h0" stroke="#d3b930"/><path d="M581.7 382.8h0" stroke="#debc30"/><path d="M478.9 496.4h0M584.9 378.1h0M446.5 523.4h0M626.8 366.9h0M592.9 383.3h0" stroke="#e5bd30"/><path d="M644.5 338.8h0M429.8 525.8h0" stroke="#e8bc30"/><path d="M449.7 521.3h0M636.7 354.1h0" stroke="#eabb30"/><path d="M513.9 482.5h0" stroke="#25612e"/><path d="M565.7 324.9h0M634.1 367.1h0M468.7 549.5h0M629.5 334.5h0M557.7 464.5h0M513.2 488.8h0M598.4 351.6h0M504.5 520.1h0M593.3 356.7h0M516.4 409.6h0M464.1 416.2h0M532.2 417.5h0M620.3 331.8h0M514.5 485.0h0M469.4 530.0h0M519.7 407.8h0M642.0 369.3h0M542.8 404.4h0M587.9 415.8h0M570.6 366.4h0M603.3 337.7h0M626.0 320.7h0M657.8 353.0h0M451.3 545.8h0M600.2 393.5h0M511.1 502.5h0M562.7 395.6h0M504.0 526.6h0" stroke="#2d692e"/><path d="M476.4 471.0h0M524.7 485.7h0M596.4 375.4h0M594.1 391.1h0M496.1 498.2h0M474.4 507.0h0M593.1 362.2h0M490.6 514.4h0M541.5 381.9h0M539.5 481.9h0M554.3 441.7h0M549.3 400.6h0M619.6 336.9h0M428.5 521.4h0M529.7 487.0h0M474.7 510.0h0M470.8 472.5h0M554.1 398.7h0M566.5 435.0h0M642.3 331.6h0M633.8 364.0h0M528.4 410.5h0M530.4 407.8h0M540.5 412.7h0M462.3 526.2h0M463.1 525.7h0M488.0 454.9h0M482.8 475.1h0M466.9 523.1h0M555.0 323.0h0M562.2 349.6h0M601.7 341.1h0M631.8 368.5h0" stroke="#40732f"/><path d="M447.2 502.1h0M502.9 456.6h0M562.1 398.4h0M573.5 412.3h0M537.1 418.2h0M492.8 473.5h0M645.7 332.2h0M489.7 495.7h0M465.6 528.1h0M613.3 323.2h0M532.4 447.6h0M607.3 396.3h0M551.3 408.0h0M557.2 421.9h0M561.8 477.1h0M496.5 481.0h0M540.0 449.2h0M531.4 473.7h0M596.3 385.9h0M582.9 357.0h0M448.6 532.3h0M485.2 476.3h0M539.2 471.0h0M457.8 525.8h0M482.0 463.3h0M508.8 450.2h0M628.9 369.1h0M612.2 323.0h0" stroke="#567e30"/><path d="M622.8 379.7h0M544.6 438.2h0M534.6 475.5h0M600.7 360.2h0M567.5 399.6h0M558.2 435.4h0M605.4 354.9h0M471.4 514.5h0M564.7 391.1h0M592.7 400.7h0M407.8 543.7h0M449.1 510.3h0M452.6 492.0h0M482.8 504.5h0M557.4 435.3h0M534.5 442.8h0M553.4 423.9h0M442.7 511.8h0M565.8 387.1h0M536.0 465.2h0M568.7 422.6h0M475.6 486.1h0M533.8 439.2h0M562.2 404.1h0M480.0 469.5h0M606.5 393.1h0M581.4 407.1h0M486.5 492.8h0M556.6 439.0h0" stroke="#6b8930"/><path d="M488.5 471.5h0M534.8 476.4h0M558.1 440.3h0M457.9 487.5h0M441.4 514.7h0M540.2 454.0h0M551.6 415.3h0M550.5 434.7h0M521.0 434.9h0M503.6 490.9h0M650.9 346.9h0M539.2 433.0h0M586.8 375.2h0M452.2 501.4h0M448.1 528.7h0M512.6 450.5h0M456.0 500.2h0M577.7 394.0h0M526.0 458.5h0M469.0 478.6h0M523.6 430.6h0M522.3 452.8h0" stroke="#809530"/><path d="M661.7 326.9h0M526.7 458.0h0M585.8 390.7h0M490.9 488.9h0M536.3 465.4h0M541.4 426.6h0M564.9 397.5h0M469.6 480.7h0M505.7 450.1h0M605.1 387.5h0M429.1 524.4h0M566.1 423.7h0M535.0 442.4h0M418.9 551.5h0M413.8 538.3h0M513.7 432.9h0M599.2 369.8h0M489.9 478.8h0M524.2 466.3h0M417.3 534.5h0M442.5 534.2h0M425.5 533.6h0M498.3 471.8h0M505.7 481.9h0M614.6 347.7h0M602.2 389.2h0M531.3 434.0h0M531.2 426.1h0M450.2 509.3h0M662.2 334.5h0" stroke="#939f30"/><path d="M561.6 422.4h0M526.9 474.9h0M502.2 450.4h0M523.0 461.7h0M537.0 436.9h0M575.8 408.6h0M654.8 341.7h0M641.5 337.8h0M585.2 391.5h0M530.9 423.0h0M415.3 536.4h0M578.1 372.5h0M527.1 476.0h0M470.7 506.5h0M601.9 366.7h0M579.0 373.8h0M483.7 500.4h0M534.6 433.2h0M621.5 371.8h0M534.8 469.3h0M589.7 381.2h0" stroke="#a1a530"/><path d="M629.8 354.9h0M585.0 380.5h0M646.8 349.6h0M574.6 422.8h0M526.3 474.5h0M586.7 387.4h0M575.7 389.1h0M624.3 346.8h0M597.8 381.8h0M477.0 484.1h0M478.1 483.6h0M548.6 432.7h0M581.7 379.7h0" stroke="#aeab30"/><path d="M472.5 489.2h0M536.7 469.3h0M500.4 463.9h0M614.4 368.4h0M614.5 363.8h0M662.0 328.3h0M646.3 352.0h0M579.7 406.1h0M561.5 416.4h0M528.9 456.3h0M438.5 533.6h0M588.9 380.8h0M412.6 556.3h0M470.8 497.1h0M591.9 382.4h0M414.3 539.3h0M587.7 388.3h0" stroke="#bcb130"/><path d="M618.6 379.4h0M600.1 386.9h0M588.0 397.7h0M524.4 443.1h0M525.2 440.5h0M445.1 520.7h0M641.4 338.9h0M492.8 466.1h0M642.8 351.5h0" stroke="#c8b530"/><path d="M428.5 524.4h0M488.6 489.1h0M649.6 331.5h0M461.0 496.7h0M526.0 442.3h0M514.2 446.1h0" stroke="#d3b930"/><path d="M585.5 382.8h0M575.2 390.6h0" stroke="#debc30"/><path d="M603.7 373.6h0M414.3 553.1h0M605.5 365.5h0" stroke="#e5bd30"/><path d="M618.1 379.3h0" stroke="#eabb30"/><path d="M622.6 349.5h0" stroke="#ecb830"/><path d="M606.0 345.6h0M485.4 502.8h0M610.2 387.9h0M494.3 515.5h0M479.3 378.5h0M516.3 400.7h0M540.4 430.3h0M538.4 473.5h0M413.0 524.7h0M550.0 462.0h0M488.3 512.4h0M627.6 376.4h0M441.5 558.1h0M547.2 468.0h0M573.0 328.1h0M550.9 324.4h0M536.0 501.6h0M581.2 346.8h0M526.8 534.4h0M462.6 556.7h0M498.7 549.7h0M507.9 529.9h0M556.2 371.2h0M617.3 401.9h0" stroke="#2d692e"/><path d="M516.4 435.2h0M576.5 352.2h0M567.6 367.6h0M565.6 375.2h0M455.7 493.2h0M444.3 542.9h0M469.1 476.9h0M601.8 439.8h0M459.9 491.1h0M499.2 479.1h0M509.6 484.1h0M546.6 408.8h0M640.2 324.1h0M575.7 416.4h0M424.1 525.2h0M469.8 472.5h0" stroke="#40732f"/><path d="M487.7 465.3h0M457.4 489.6h0M451.1 526.5h0M477.3 507.1h0M458.8 488.1h0M528.5 466.0h0M538.9 391.7h0M503.2 484.6h0M553.7 379.9h0M508.1 489.2h0M523.5 434.9h0M433.1 514.1h0M506.1 477.7h0M449.0 532.3h0M499.5 484.6h0M572.3 395.1h0M453.0 528.8h0M546.0 439.7h0M587.6 384.2h0M436.0 537.9h0M544.2 450.8h0M450.6 492.8h0" stroke="#567e30"/><path d="M538.2 419.8h0M607.0 353.6h0M538.1 452.5h0M567.2 396.5h0M522.3 465.4h0M489.1 496.6h0M498.2 461.9h0M568.5 407.7h0M405.2 541.8h0M627.7 344.7h0M592.5 397.8h0M582.6 411.2h0M542.3 382.8h0M522.5 446.3h0M557.5 428.4h0M494.5 471.5h0M608.9 350.8h0M401.9 550.2h0M488.6 468.1h0M630.5 358.5h0M451.3 540.8h0M528.3 426.8h0" stroke="#6b8930"/><path d="M601.0 360.4h0M564.9 403.4h0M596.7 398.6h0M514.1 475.8h0M507.8 494.4h0M555.1 421.5h0M558.5 421.8h0M603.9 393.0h0M605.1 353.1h0M473.8 491.8h0M605.5 389.4h0M550.7 385.2h0M497.8 488.7h0M512.6 473.8h0M550.8 407.6h0M475.1 495.7h0M422.8 528.4h0M594.7 379.0h0M426.1 547.6h0M527.9 450.4h0M585.7 383.3h0M457.9 500.3h0M523.9 472.5h0M456.3 493.8h0M589.7 383.9h0M528.4 430.8h0M503.7 480.2h0M504.1 447.1h0M576.6 403.1h0M550.7 384.2h0M510.5 482.5h0M485.6 493.3h0M635.4 354.5h0M566.2 390.9h0M626.7 345.1h0M615.9 359.6h0M593.1 386.3h0M520.0 465.0h0" stroke="#809530"/><path d="M433.2 541.3h0M483.8 496.3h0M551.4 438.2h0M527.3 459.6h0M589.2 388.5h0M590.9 385.8h0M618.5 350.4h0M466.6 513.7h0M537.8 453.0h0M637.6 334.4h0M576.1 381.5h0M526.8 470.1h0M542.6 382.6h0M478.0 503.9h0M492.6 489.4h0M571.4 395.8h0M498.6 476.3h0M535.0 416.3h0M611.7 361.5h0M661.6 322.6h0M564.6 392.6h0M474.1 501.7h0M555.0 429.0h0M565.0 392.9h0" stroke="#939f30"/><path d="M490.6 470.3h0M634.8 339.5h0M503.7 489.5h0M490.8 463.6h0M601.1 371.3h0M518.5 453.5h0M624.6 346.4h0M536.7 452.3h0M439.3 512.0h0M497.3 493.7h0M547.1 416.7h0M465.3 512.8h0M639.7 335.0h0M551.6 410.4h0M548.0 419.9h0M417.8 548.5h0M534.2 469.5h0M582.4 387.1h0M618.2 368.5h0M516.0 442.8h0M586.9 398.2h0M484.7 478.5h0M565.6 398.0h0" stroke="#a1a530"/><path d="M613.4 347.4h0M530.9 461.0h0M532.2 454.7h0M545.5 416.2h0M534.3 434.3h0M533.8 435.7h0M574.8 421.6h0M608.2 369.5h0M614.7 370.7h0M507.2 466.8h0M437.5 515.8h0M424.3 534.6h0M573.5 388.1h0M514.8 446.1h0M601.1 363.5h0" stroke="#aeab30"/><path d="M620.8 377.2h0M529.3 432.4h0M520.4 456.5h0M449.2 531.9h0M564.6 414.2h0M591.6 373.7h0M476.4 503.1h0M446.5 532.0h0M602.4 382.7h0M574.5 381.6h0M623.6 358.0h0M482.1 495.0h0M513.3 468.0h0" stroke="#bcb130"/><path d="M441.9 513.8h0M470.5 493.7h0M566.1 401.6h0M590.7 382.9h0M531.7 475.5h0M644.3 338.4h0M621.9 376.5h0M440.2 534.0h0M488.7 476.4h0M501.7 489.9h0M586.7 378.6h0M605.6 365.9h0M546.5 413.1h0" stroke="#c8b530"/><path d="M626.6 350.6h0M424.4 526.8h0M479.7 495.2h0M576.5 396.9h0M618.8 378.4h0M626.5 355.8h0" stroke="#d3b930"/><path d="M652.3 338.2h0M402.7 554.9h0M469.8 494.0h0M509.1 466.3h0M616.7 357.2h0M601.0 376.5h0M560.3 408.4h0M445.8 513.9h0M587.6 378.8h0M571.7 400.7h0" stroke="#debc30"/><path d="M607.6 356.6h0M638.3 339.7h0M483.2 489.4h0M451.3 522.0h0M548.8 432.1h0" stroke="#e5bd30"/><path d="M511.3 447.0h0M443.6 530.5h0M644.8 350.3h0M488.3 489.5h0M655.0 335.3h0M577.1 397.9h0M477.1 501.6h0" stroke="#e8bc30"/><path d="M403.2 557.7h0M445.3 523.2h0M645.9 342.4h0" stroke="#eabb30"/><path d="M636.7 342.1h0" stroke="#ecb830"/><path d="M616.6 379.5h0" stroke="#edaf30"/><path d="M643.2 341.7h0" stroke="#eda630"/><path d="M466.4 533.9h0M575.0 358.1h0M610.1 343.2h0M544.3 490.5h0M582.8 433.7h0M620.4 324.4h0M509.6 507.1h0M445.7 546.2h0M448.4 539.5h0M605.1 497.1h0M482.3 554.6h0M576.7 325.1h0M487.4 515.1h0M556.4 385.7h0M537.3 380.6h0M601.2 328.7h0M445.9 491.1h0" stroke="#2d692e"/><path d="M447.6 536.5h0M631.7 368.7h0M597.3 435.8h0M517.7 471.7h0M517.9 425.3h0M525.9 413.7h0M604.0 399.2h0M556.7 469.1h0M526.7 416.3h0M559.8 478.6h0M607.7 385.1h0M479.9 513.1h0M554.5 376.7h0M518.4 490.1h0" stroke="#40732f"/><path d="M490.8 538.8h0M517.7 494.8h0M618.7 341.3h0M584.0 356.1h0M601.2 333.9h0M499.9 488.7h0M541.2 454.8h0M642.6 324.4h0M482.3 515.0h0M591.1 361.7h0M538.2 435.7h0M633.3 335.2h0M557.2 427.3h0M617.0 345.3h0M544.7 396.5h0M541.9 416.8h0M523.8 408.2h0M450.2 534.3h0M574.0 365.4h0M536.3 448.5h0M513.6 423.3h0M542.9 388.3h0M516.3 429.0h0M456.5 496.7h0M579.4 423.0h0M477.2 510.8h0" stroke="#567e30"/><path d="M566.5 422.0h0M505.9 481.4h0M499.2 489.1h0M464.2 486.8h0M484.2 463.1h0M541.3 412.9h0M512.3 478.5h0M491.5 469.7h0M464.0 488.7h0M549.1 444.8h0M567.4 396.2h0M532.1 443.5h0M481.5 478.3h0M500.5 449.7h0M480.4 514.9h0M517.8 450.6h0M496.0 478.0h0M593.2 369.6h0M501.1 465.4h0M497.0 484.7h0M573.7 413.8h0M471.0 482.8h0" stroke="#6b8930"/><path d="M479.8 515.8h0M595.5 394.1h0M552.9 419.3h0M585.8 396.8h0M583.1 389.1h0M564.2 425.6h0M472.8 489.1h0M542.9 427.6h0M524.9 435.0h0M496.1 500.2h0M609.8 382.0h0M564.1 424.5h0M474.1 495.6h0M633.5 339.4h0M502.3 462.5h0M552.6 409.6h0M536.7 452.8h0M581.9 401.1h0M564.5 407.1h0M507.7 481.2h0M627.0 339.0h0M513.2 439.1h0M573.2 420.3h0M475.8 486.5h0" stroke="#809530"/><path d="M517.3 466.5h0M499.2 483.8h0M562.9 407.2h0M493.4 462.8h0M553.3 384.0h0M606.4 372.0h0M636.3 339.2h0M571.7 401.7h0M499.6 467.9h0M504.4 458.9h0M624.5 379.2h0M594.2 372.3h0M495.8 464.4h0M504.0 479.7h0M610.6 382.4h0M571.2 409.3h0M618.0 383.0h0M613.8 346.3h0M502.3 495.7h0M436.2 541.0h0M622.4 373.9h0M648.0 324.6h0M619.4 360.1h0" stroke="#939f30"/><path d="M410.7 538.7h0M491.6 466.0h0M513.6 441.7h0M541.5 422.2h0M466.5 509.5h0M516.6 453.7h0M448.2 501.0h0M459.4 500.2h0M463.6 494.2h0M584.1 386.2h0M504.2 489.5h0M559.5 406.7h0M469.4 488.3h0M549.4 421.4h0M475.8 482.3h0M575.2 378.0h0M560.1 420.1h0M434.6 517.5h0M606.4 379.7h0M622.2 343.4h0M448.9 518.4h0" stroke="#a1a530"/><path d="M588.3 395.2h0M621.3 360.9h0M559.4 408.5h0M436.1 530.2h0M585.2 386.1h0M594.7 383.3h0M589.2 376.9h0M574.3 408.9h0M661.4 320.9h0M468.2 504.4h0M449.2 528.0h0M656.4 340.7h0M440.8 517.1h0M620.3 377.1h0M604.8 390.3h0M614.4 367.2h0M532.5 438.1h0M661.2 330.4h0M464.3 493.8h0" stroke="#aeab30"/><path d="M449.9 522.5h0M417.6 552.4h0M598.4 390.6h0M518.4 459.7h0M479.8 481.3h0M414.8 539.9h0M627.4 357.6h0M480.8 492.3h0M551.0 412.7h0M579.4 407.3h0M465.1 512.4h0M606.3 362.5h0M508.4 478.4h0M649.2 332.7h0M634.4 360.7h0M554.3 428.5h0M530.9 451.7h0M427.7 526.6h0M605.8 371.7h0M508.8 456.7h0" stroke="#bcb130"/><path d="M511.6 448.5h0M514.5 447.3h0M419.6 547.2h0M645.7 349.3h0M473.7 503.3h0M460.8 500.4h0M602.0 369.3h0M532.0 454.2h0M608.2 359.9h0M596.5 377.9h0M401.8 557.0h0M602.6 365.6h0M575.8 399.7h0M404.8 547.6h0M615.3 352.6h0M654.4 334.9h0M526.4 441.6h0M411.9 553.7h0" stroke="#c8b530"/><path d="M656.8 323.2h0M563.8 415.9h0M413.1 553.8h0M446.3 524.1h0M584.3 381.1h0M465.7 510.2h0M660.2 324.9h0M565.8 411.6h0M567.6 417.8h0M589.1 375.9h0M519.6 447.7h0M470.9 492.5h0" stroke="#d3b930"/><path d="M615.1 358.4h0M632.0 354.1h0M618.4 355.9h0M616.1 379.3h0M437.6 531.1h0M508.9 463.8h0M601.8 364.5h0M466.3 502.1h0M653.9 333.3h0" stroke="#debc30"/><path d="M468.5 494.8h0M462.1 517.1h0M403.5 556.5h0M604.5 369.4h0M514.3 466.3h0" stroke="#e5bd30"/><path d="M617.0 362.0h0M603.4 374.5h0M603.0 366.3h0" stroke="#e8bc30"/><path d="M468.4 503.0h0M436.4 528.1h0M623.7 377.1h0M441.5 517.2h0M616.0 362.3h0" stroke="#eabb30"/><path d="M404.8 551.1h0M651.8 337.7h0" stroke="#edaf30"/><path d="M460.0 516.2h0" stroke="#eda630"/><path d="M450.9 516.6h0" stroke="#ee9d30"/><path d="M441.8 530.3h0M614.0 358.3h0" stroke="#f07c30"/><path d="M532.6 499.1h0M508.8 474.8h0M585.4 370.3h0M584.8 361.6h0" stroke="#25612e"/><path d="M506.3 505.5h0M601.6 356.7h0M587.9 409.7h0M486.9 521.8h0M476.3 477.7h0M425.1 558.7h0M542.0 400.9h0M545.9 392.2h0M485.6 536.5h0M472.3 553.6h0M526.6 420.6h0M624.2 383.8h0M530.6 493.9h0" stroke="#2d692e"/><path d="M526.1 401.0h0M580.9 369.1h0M512.9 493.1h0M550.5 376.3h0M583.1 424.4h0M520.0 414.1h0M550.4 387.6h0M534.5 399.3h0M579.3 418.8h0" stroke="#40732f"/><path d="M596.2 403.3h0M574.1 363.7h0M462.7 521.5h0M431.9 517.3h0M530.6 422.8h0M585.7 402.0h0M545.1 440.6h0M502.2 478.2h0M559.4 383.2h0M576.6 371.7h0M573.8 435.0h0M632.8 333.4h0M417.3 555.1h0M575.1 365.1h0M565.0 386.0h0M578.0 385.6h0M605.5 400.8h0M420.2 531.7h0M563.1 439.0h0M529.3 479.2h0M597.7 363.1h0" stroke="#567e30"/><path d="M501.6 460.0h0M489.2 501.4h0M572.4 419.5h0M494.4 475.3h0M626.9 341.0h0M501.9 479.0h0M555.7 398.7h0M628.6 372.4h0M643.9 333.0h0M500.5 450.7h0M471.8 487.9h0M535.9 467.0h0M629.2 360.0h0M613.0 349.8h0M478.8 516.0h0M533.3 427.3h0M589.2 401.1h0M574.1 397.7h0M486.3 499.7h0" stroke="#6b8930"/><path d="M543.0 398.1h0M545.2 382.6h0M659.8 338.9h0M577.7 384.8h0M523.9 453.7h0M546.5 418.6h0M531.4 425.4h0M574.4 408.7h0M481.4 514.5h0M589.8 392.7h0M626.9 356.4h0M459.9 520.7h0M555.4 412.0h0M578.6 373.6h0M572.6 386.8h0M535.8 474.3h0M592.3 393.3h0M429.1 545.9h0M556.3 425.7h0M510.7 453.4h0M624.2 378.7h0M595.2 383.4h0M597.8 377.0h0M462.9 519.7h0M630.5 363.9h0M624.8 345.6h0M428.5 547.5h0" stroke="#809530"/><path d="M530.3 441.7h0M530.9 447.3h0M544.3 414.4h0M531.1 472.8h0M504.8 480.1h0M539.5 419.5h0M531.5 450.5h0M580.8 390.7h0M433.1 534.8h0M474.4 505.7h0M450.5 526.7h0M500.2 483.5h0M475.6 488.2h0M551.7 411.2h0M506.1 470.3h0M546.5 441.7h0M657.6 320.9h0M569.7 397.6h0M505.3 448.8h0" stroke="#939f30"/><path d="M621.3 364.8h0M476.5 490.2h0M519.8 455.8h0M602.8 385.4h0M475.6 493.1h0M448.9 506.6h0M558.4 413.4h0M484.0 491.8h0M648.6 324.9h0M593.1 380.9h0M555.4 415.5h0M533.8 453.9h0M590.9 382.4h0M578.2 393.6h0M430.8 534.4h0M440.2 533.7h0M650.7 345.3h0M453.2 501.3h0M466.8 497.8h0M529.5 475.2h0M620.0 363.6h0M529.1 438.8h0M553.8 428.8h0M590.3 391.5h0M525.1 436.7h0M586.3 376.7h0M549.7 410.9h0M492.9 478.1h0" stroke="#a1a530"/><path d="M511.4 456.8h0M492.6 466.0h0M530.5 442.4h0M472.8 504.4h0M576.0 388.5h0M575.6 380.2h0M607.4 357.0h0M567.7 386.9h0M516.4 466.5h0M577.9 406.2h0M458.6 497.3h0M590.3 388.3h0M591.8 380.6h0" stroke="#aeab30"/><path d="M506.0 464.5h0M449.9 503.6h0M434.0 531.4h0M654.0 340.2h0M587.8 392.0h0M544.5 431.7h0M615.8 379.4h0M610.3 379.1h0M503.4 464.6h0M547.0 433.6h0M622.9 357.1h0M563.8 410.3h0M575.1 395.3h0M522.9 457.4h0M434.4 540.1h0M420.3 552.2h0M585.0 384.3h0M620.2 357.1h0M563.6 411.3h0M578.5 399.3h0M494.2 483.4h0M617.5 365.1h0M608.0 363.4h0M585.1 394.9h0M469.9 499.0h0M621.7 341.9h0M568.3 409.5h0M470.6 496.0h0M652.9 341.2h0M452.0 499.7h0" stroke="#bcb130"/><path d="M466.1 509.2h0M511.6 469.7h0M417.7 550.9h0M520.8 440.0h0M624.4 360.8h0M624.4 367.4h0M424.9 529.2h0M479.8 489.1h0M531.2 435.8h0M559.4 415.3h0M519.1 451.3h0M660.9 329.3h0M546.8 386.2h0M465.8 503.5h0M482.1 501.9h0M608.1 373.7h0M455.4 508.0h0M480.9 500.6h0M630.8 345.0h0M583.1 397.5h0" stroke="#c8b530"/><path d="M660.1 324.2h0M657.3 337.5h0M403.0 553.8h0M627.7 346.8h0M637.4 340.0h0M584.1 385.3h0M579.0 391.7h0M638.8 351.7h0M649.9 339.8h0M487.3 490.1h0" stroke="#d3b930"/><path d="M613.5 355.9h0M416.7 549.4h0M564.4 419.5h0M424.6 535.2h0M466.1 494.6h0M520.8 460.3h0M633.4 346.9h0" stroke="#debc30"/><path d="M455.1 504.4h0M624.3 348.6h0M406.7 557.0h0M470.7 495.1h0" stroke="#e5bd30"/><path d="M521.4 457.0h0M613.9 357.0h0M582.5 382.8h0M419.9 544.8h0M647.1 342.2h0M600.6 372.4h0M512.0 446.1h0M654.6 325.7h0" stroke="#e8bc30"/><path d="M427.1 528.7h0M461.0 514.4h0M604.9 366.3h0" stroke="#eabb30"/><path d="M484.8 489.3h0" stroke="#ecb830"/><path d="M646.4 338.4h0M510.4 464.0h0" stroke="#edaf30"/><path d="M463.9 509.1h0" stroke="#eda630"/><path d="M418.2 536.6h0M418.5 542.2h0M428.4 535.0h0" stroke="#ee9d30"/><path d="M636.7 349.1h0" stroke="#ee9230"/><path d="M418.6 541.7h0" stroke="#f06830"/><path d="M557.9 363.5h0" stroke="#25612e"/><path d="M538.6 545.1h0M422.5 504.9h0M525.2 391.2h0M506.4 548.7h0M514.7 397.2h0M604.9 406.4h0M476.3 456.2h0M534.5 494.2h0M579.2 322.2h0M636.9 327.7h0M496.6 509.1h0M612.5 340.5h0M543.3 512.0h0M498.3 455.1h0M469.5 521.2h0M555.9 381.3h0" stroke="#2d692e"/><path d="M562.2 438.6h0M513.1 426.1h0M574.7 416.9h0M557.2 401.0h0M494.2 497.6h0M524.8 397.4h0M602.0 334.8h0M474.0 479.9h0M561.7 359.1h0M579.1 420.0h0M607.6 391.7h0M644.5 330.1h0" stroke="#40732f"/><path d="M543.2 409.2h0M489.5 497.7h0M551.7 419.3h0M595.3 402.0h0M505.7 488.2h0M533.7 450.4h0M639.4 333.3h0M516.4 450.0h0M596.0 398.3h0M557.4 378.0h0M457.8 497.5h0M556.3 409.3h0" stroke="#567e30"/><path d="M561.9 430.2h0M416.5 534.7h0M509.1 449.7h0M475.8 467.3h0M581.2 374.3h0M586.6 413.5h0M658.6 341.6h0M518.2 469.7h0M604.3 362.1h0M527.5 435.5h0M453.8 528.6h0M473.2 483.7h0M545.6 429.1h0M521.8 409.9h0M476.9 479.7h0M440.9 509.1h0" stroke="#6b8930"/><path d="M579.4 403.0h0M485.0 468.0h0M646.6 334.0h0M596.3 385.9h0M521.2 449.8h0M558.6 424.7h0M452.9 533.9h0M537.2 432.4h0M539.7 438.4h0M651.2 342.0h0M596.2 399.2h0M569.3 395.2h0M521.7 448.9h0M533.9 478.4h0M521.1 462.1h0M440.9 537.7h0M527.7 476.5h0M413.0 540.0h0M528.7 440.6h0M500.0 467.6h0M444.6 534.3h0M545.5 386.7h0" stroke="#809530"/><path d="M625.3 364.8h0M650.4 342.3h0M492.5 478.6h0M578.3 388.2h0M466.2 485.7h0M592.7 393.0h0M550.6 432.4h0M485.2 476.6h0M495.4 481.2h0M620.5 363.9h0M441.3 534.4h0M538.7 433.3h0M404.7 541.8h0M617.1 373.0h0M610.4 357.1h0M493.9 480.9h0M545.1 432.0h0M646.5 334.5h0M517.9 440.7h0M650.6 326.1h0M491.7 488.5h0M507.7 446.8h0" stroke="#939f30"/><path d="M518.2 440.1h0M524.2 459.9h0M503.8 490.7h0M598.0 374.1h0M431.3 535.1h0M478.3 507.4h0M594.8 399.7h0M506.6 447.3h0M659.4 324.2h0M500.1 476.3h0M623.0 368.2h0M447.3 501.1h0M455.7 523.7h0M613.8 370.3h0M596.4 373.2h0M524.2 424.4h0M427.0 530.0h0M605.6 357.1h0M551.9 429.3h0M445.0 530.8h0M513.8 453.8h0M590.7 377.5h0M542.1 420.3h0M549.1 426.6h0M629.2 352.4h0M530.5 433.0h0M611.8 379.9h0" stroke="#a1a530"/><path d="M404.9 543.2h0M595.5 402.1h0M631.2 353.1h0M483.6 480.1h0M466.5 494.9h0M603.4 378.6h0M468.6 506.8h0M432.3 537.6h0M462.6 498.3h0M481.6 483.1h0M598.7 387.7h0M516.1 454.3h0M505.4 490.9h0M631.6 343.8h0M657.2 339.3h0M600.5 380.8h0M426.4 540.4h0M580.3 397.6h0M562.2 418.1h0M577.5 407.0h0M627.6 347.1h0M574.8 397.6h0" stroke="#aeab30"/><path d="M457.2 518.2h0M405.0 547.5h0M615.2 381.6h0M647.9 338.6h0M524.0 443.2h0M496.5 465.7h0M547.2 422.4h0M611.5 355.8h0M507.2 445.1h0M463.0 514.6h0M617.6 352.0h0M549.8 404.0h0M448.2 524.1h0M566.4 417.9h0M514.5 446.3h0M568.4 412.2h0M626.6 348.8h0M624.8 360.5h0M567.6 412.0h0M484.0 491.5h0M519.6 463.0h0" stroke="#bcb130"/><path d="M609.3 361.8h0M600.5 375.6h0M413.2 544.0h0M618.5 362.9h0M598.3 372.3h0M432.2 540.7h0M612.4 371.8h0M576.7 390.8h0M563.6 417.1h0M457.6 519.6h0" stroke="#c8b530"/><path d="M648.4 344.8h0M658.3 327.0h0M609.5 376.7h0M429.4 525.6h0M622.7 365.6h0M487.4 476.3h0M478.3 497.2h0M405.0 558.5h0M611.7 361.9h0M633.0 342.6h0M612.4 366.2h0M512.0 452.3h0M424.4 535.3h0M549.3 424.1h0M428.2 539.0h0M516.6 463.5h0M650.7 343.0h0M442.3 529.7h0" stroke="#d3b930"/><path d="M576.3 400.4h0M515.1 465.1h0M632.7 345.2h0M404.8 551.4h0M436.2 517.3h0M573.5 407.3h0M427.7 537.0h0M459.7 519.1h0" stroke="#debc30"/><path d="M582.6 395.2h0M581.2 384.3h0M530.2 454.0h0M602.6 382.2h0M608.4 380.7h0M646.6 344.4h0" stroke="#e5bd30"/><path d="M571.3 393.0h0M623.9 353.9h0M453.1 512.3h0" stroke="#e8bc30"/><path d="M416.6 537.7h0M518.0 460.2h0M612.0 369.1h0M490.7 484.6h0M410.0 544.7h0M607.1 365.5h0" stroke="#eabb30"/><path d="M506.2 468.6h0M456.7 503.5h0M450.0 520.5h0M638.0 341.5h0M611.6 370.4h0M516.7 458.0h0M510.4 460.9h0" stroke="#ecb830"/><path d="M645.1 343.2h0M462.4 501.8h0M446.1 526.9h0" stroke="#edaf30"/><path d="M446.3 529.2h0M615.5 376.3h0" stroke="#eda630"/><path d="M487.1 486.7h0M444.6 521.5h0M635.3 348.2h0M629.2 350.1h0" stroke="#ee9230"/><path d="M640.4 349.4h0" stroke="#ef8730"/><path d="M423.9 536.6h0" stroke="#f06830"/><path d="M404.8 551.9h0" stroke="#f05430"/><path d="M640.6 347.8h0" stroke="#f24730"/><path d="M637.5 347.8h0" stroke="#f43b30"/><path d="M458.5 504.1h0" stroke="#fa242e"/><path d="M538.9 384.5h0M520.1 404.6h0M604.5 413.5h0M521.2 504.5h0M519.7 473.8h0M534.0 393.1h0M617.0 389.9h0M478.5 461.7h0M563.1 337.3h0M557.9 556.4h0M509.5 498.3h0M562.2 368.0h0M545.8 522.5h0M574.1 338.4h0M548.8 372.5h0M549.1 380.9h0M550.9 367.0h0M560.7 457.3h0M596.0 365.5h0M508.6 509.4h0M471.0 523.2h0M601.4 324.2h0M538.2 361.2h0M457.7 543.4h0" stroke="#2d692e"/><path d="M555.0 444.0h0M508.1 491.2h0M548.6 363.3h0M590.1 412.9h0M563.4 358.7h0M516.5 437.6h0M535.3 430.2h0M645.3 355.3h0M494.4 494.2h0M637.7 330.5h0M558.4 385.5h0M581.8 371.7h0M543.7 447.7h0M601.1 400.1h0M510.5 438.0h0" stroke="#40732f"/><path d="M508.8 499.3h0M524.6 432.9h0M551.6 400.4h0M539.6 482.7h0M544.8 399.7h0M517.1 492.8h0M622.2 335.3h0M608.0 394.9h0M563.4 376.4h0M608.9 349.7h0M516.7 411.7h0M478.0 474.0h0" stroke="#567e30"/><path d="M494.9 459.0h0M490.7 538.3h0M537.8 438.6h0M563.5 383.2h0M494.6 488.2h0M506.8 443.2h0M549.3 438.0h0M569.0 404.2h0M449.3 539.5h0M410.1 556.5h0M429.5 543.7h0M453.9 497.2h0M453.6 527.6h0M508.6 487.2h0M565.0 398.0h0M596.3 368.8h0M543.3 443.0h0M572.1 414.0h0M479.1 477.6h0M483.1 468.8h0M566.8 415.9h0M544.7 382.2h0" stroke="#6b8930"/><path d="M523.2 485.7h0M495.1 471.1h0M650.5 322.3h0M525.5 463.2h0M441.7 534.6h0M550.0 426.4h0M526.2 458.8h0M479.6 506.4h0M562.8 399.9h0M433.1 516.7h0M525.9 467.8h0M469.8 510.0h0M629.7 362.4h0M521.1 441.1h0M428.9 522.6h0M604.3 391.2h0M568.0 406.2h0M493.7 478.8h0M605.4 383.1h0" stroke="#809530"/><path d="M472.6 485.0h0M635.9 354.9h0M572.9 391.3h0M450.9 522.1h0M457.6 498.5h0M531.1 443.8h0M449.0 502.4h0M534.1 475.9h0M592.4 395.3h0M432.2 538.2h0M515.9 423.9h0M489.4 478.6h0M501.1 471.4h0M532.6 426.8h0M421.5 531.6h0M532.1 469.4h0M651.4 327.0h0M424.0 545.6h0M616.7 349.6h0M522.8 439.4h0" stroke="#939f30"/><path d="M567.4 403.4h0M492.1 465.2h0M586.8 396.4h0M464.7 492.0h0M529.8 459.1h0M582.5 378.4h0M433.6 532.3h0M524.9 442.6h0M613.7 377.0h0M582.2 377.7h0M553.7 419.5h0M635.6 352.2h0M476.9 497.5h0M589.7 375.1h0M496.6 477.4h0M569.7 391.7h0M520.7 455.9h0M504.5 480.5h0" stroke="#a1a530"/><path d="M456.6 504.2h0M595.6 381.4h0M557.3 418.4h0M446.4 513.1h0M482.0 492.8h0M524.5 466.0h0M568.7 410.3h0M607.1 379.1h0M454.2 517.4h0M579.7 373.3h0M599.4 386.9h0M521.7 437.9h0M620.9 353.1h0M417.8 547.3h0M598.8 379.6h0" stroke="#aeab30"/><path d="M624.2 359.5h0M431.9 528.7h0M523.5 456.7h0M614.9 365.0h0M502.0 468.4h0M543.1 421.0h0M613.5 358.2h0M431.5 524.1h0M602.0 379.3h0M478.0 487.8h0M574.5 405.1h0M514.2 465.9h0M600.2 374.7h0M421.5 548.7h0" stroke="#bcb130"/><path d="M573.1 421.9h0M528.1 426.8h0M462.5 504.7h0M453.4 516.3h0M439.1 530.8h0M436.3 536.0h0M581.9 391.4h0M457.6 515.0h0M417.9 537.4h0M444.3 516.0h0M648.4 335.0h0M533.4 435.0h0M462.2 516.3h0M545.4 418.4h0M479.9 500.3h0M441.9 510.1h0" stroke="#c8b530"/><path d="M558.5 407.1h0M606.6 359.2h0M416.8 545.3h0M653.3 340.1h0M623.2 351.4h0M598.4 378.4h0M414.0 546.9h0M577.3 388.5h0M415.2 552.3h0M629.9 348.3h0M608.5 364.6h0M512.9 456.9h0M569.5 391.9h0M508.8 468.2h0M554.8 415.0h0" stroke="#d3b930"/><path d="M630.7 343.4h0M618.9 378.3h0M528.2 455.1h0M427.4 529.5h0M614.2 373.2h0M492.0 486.1h0M456.9 518.2h0M451.0 505.7h0M642.1 338.1h0" stroke="#debc30"/><path d="M656.4 328.2h0M658.4 334.9h0M415.8 551.9h0M639.9 350.6h0M649.7 329.6h0M411.7 554.5h0M446.1 519.6h0M655.4 329.8h0M648.8 337.4h0M466.2 507.6h0M553.2 413.1h0M411.8 545.6h0M512.2 445.8h0" stroke="#e5bd30"/><path d="M598.1 378.4h0M643.0 342.8h0M617.2 377.9h0M457.6 506.8h0M637.6 352.8h0M658.9 328.6h0M647.9 337.8h0M418.7 544.3h0M652.6 332.4h0" stroke="#e8bc30"/><path d="M486.1 479.2h0M650.0 335.9h0M511.1 459.6h0M463.2 509.3h0" stroke="#eabb30"/><path d="M515.7 460.2h0M608.7 368.7h0M484.3 483.1h0M618.8 356.0h0M464.7 508.7h0" stroke="#ecb830"/><path d="M453.1 518.9h0" stroke="#edaf30"/><path d="M442.9 526.0h0M442.6 523.6h0" stroke="#eda630"/><path d="M611.8 367.6h0M620.0 373.3h0" stroke="#ee9d30"/><path d="M488.2 487.8h0M407.8 547.3h0" stroke="#ee9230"/><path d="M451.8 513.4h0M461.0 504.7h0" stroke="#ef8730"/><path d="M418.9 537.3h0M407.5 553.0h0M639.1 342.2h0" stroke="#f07c30"/><path d="M443.0 528.4h0" stroke="#f05430"/><path d="M408.0 549.7h0" stroke="#f62e30"/><path d="M490.4 525.2h0M495.8 383.5h0M474.4 541.7h0M577.0 354.9h0M424.6 554.7h0M470.6 542.7h0M542.0 521.4h0M596.8 331.7h0M610.2 443.7h0M539.2 396.8h0M515.3 503.8h0M512.9 497.0h0M540.7 516.1h0M623.9 333.8h0M482.3 531.9h0M482.6 457.4h0" stroke="#2d692e"/><path d="M490.2 458.1h0M499.1 457.8h0M501.2 443.7h0M629.4 339.9h0M488.6 492.6h0M623.5 331.6h0M461.3 478.9h0M572.2 436.3h0M604.4 394.8h0" stroke="#40732f"/><path d="M527.2 479.2h0M421.1 528.6h0M525.8 448.1h0M556.9 324.0h0M580.2 423.5h0M488.7 472.3h0M528.5 414.8h0M530.2 471.2h0M583.5 356.1h0M582.2 355.5h0M514.7 472.1h0M526.0 470.6h0M566.3 386.8h0M543.2 412.5h0" stroke="#567e30"/><path d="M577.5 383.8h0M509.8 442.8h0M521.0 435.5h0M556.9 407.5h0M504.9 452.0h0M516.4 468.4h0M502.4 477.4h0M641.6 355.1h0M423.6 530.9h0M568.7 382.7h0M513.7 426.9h0M458.5 494.3h0M559.8 391.5h0M569.9 398.0h0M469.3 486.0h0M525.4 451.0h0M542.4 444.1h0M517.6 496.0h0M565.7 409.5h0M560.6 426.2h0M523.0 444.3h0M477.3 514.7h0M468.4 512.5h0M469.9 485.3h0M524.8 446.4h0" stroke="#6b8930"/><path d="M504.0 450.8h0M402.1 550.8h0M555.8 377.6h0M484.8 497.5h0M432.3 541.8h0M572.9 382.7h0M557.6 399.9h0M410.7 542.7h0M551.4 438.2h0M549.0 415.3h0M567.6 426.3h0M534.4 426.1h0M553.4 402.6h0M496.0 469.5h0M597.3 393.6h0M513.8 478.0h0M535.2 440.8h0M571.3 405.8h0M520.4 442.3h0M581.8 399.9h0" stroke="#809530"/><path d="M617.2 354.7h0M560.6 425.0h0M516.0 448.9h0M542.4 424.5h0M477.6 493.0h0M563.8 406.5h0M476.2 480.7h0M616.0 382.3h0M518.8 444.6h0M494.6 469.0h0M633.7 360.1h0M449.0 504.9h0M547.0 382.8h0M649.3 333.2h0M496.7 468.4h0M599.2 370.3h0M558.1 411.7h0M628.3 368.4h0M528.3 437.3h0M403.5 542.2h0M528.5 431.5h0M556.9 416.6h0M540.1 453.1h0" stroke="#939f30"/><path d="M542.0 423.3h0M639.4 339.7h0M600.9 389.7h0M510.4 444.3h0M477.2 468.6h0M552.5 412.2h0M580.8 384.5h0M621.3 342.6h0M498.0 464.7h0M517.1 444.3h0M614.7 385.5h0M546.1 429.6h0M641.8 335.2h0M544.6 425.6h0M478.9 500.0h0M613.3 380.5h0M544.8 433.4h0M545.4 427.2h0M627.4 363.1h0M413.4 556.4h0M492.1 462.0h0" stroke="#a1a530"/><path d="M507.7 479.5h0M573.8 403.0h0M431.2 531.3h0M552.9 416.2h0M497.1 492.6h0M449.1 508.0h0M615.9 372.9h0M621.1 367.4h0M661.8 324.4h0M560.5 415.5h0M543.5 423.5h0M549.0 429.7h0M504.6 445.9h0M645.5 351.1h0M469.3 504.0h0M602.4 378.4h0" stroke="#aeab30"/><path d="M612.7 356.8h0M501.9 467.8h0M661.2 321.5h0M546.8 432.9h0M626.2 362.1h0M602.0 363.8h0M655.8 338.3h0M481.3 496.5h0M428.6 529.1h0M480.9 498.3h0M610.0 361.4h0M518.0 445.5h0" stroke="#bcb130"/><path d="M462.5 515.8h0M653.1 325.2h0M487.2 480.1h0M513.5 458.0h0M431.7 519.8h0M517.8 445.7h0M421.6 546.3h0M415.2 552.7h0M620.4 372.1h0M616.4 354.8h0M456.0 515.8h0M617.5 375.9h0M463.8 499.6h0M610.6 371.8h0M481.5 503.5h0M605.1 367.9h0M451.4 504.4h0M575.7 405.5h0M469.1 506.5h0M502.2 469.8h0" stroke="#c8b530"/><path d="M453.4 507.9h0M493.5 482.0h0M588.6 387.3h0M464.6 504.8h0M609.3 370.2h0M405.3 545.7h0M504.9 466.8h0M582.1 383.1h0M421.5 536.6h0M657.9 322.4h0M606.0 366.7h0" stroke="#d3b930"/><path d="M656.9 339.1h0M637.2 342.0h0M422.2 537.2h0M653.4 335.7h0M579.1 397.3h0M477.7 486.6h0M650.8 327.3h0M546.5 422.9h0M480.4 485.1h0M502.4 471.3h0" stroke="#debc30"/><path d="M652.4 330.7h0M642.3 348.7h0M437.7 520.1h0M647.8 344.2h0M454.6 511.4h0M453.6 520.1h0M622.5 352.2h0M504.8 470.5h0M658.2 332.9h0M407.0 546.2h0M438.3 526.5h0" stroke="#e5bd30"/><path d="M563.8 418.1h0M434.5 525.6h0M480.1 483.7h0M451.9 509.2h0M516.8 457.6h0M440.6 518.5h0M657.2 332.7h0" stroke="#e8bc30"/><path d="M436.3 526.3h0M519.3 462.1h0M451.4 514.8h0" stroke="#eabb30"/><path d="M618.5 374.5h0M634.5 345.4h0M456.9 510.6h0" stroke="#ecb830"/><path d="M453.9 518.0h0M408.3 554.5h0M460.8 503.6h0M442.9 521.2h0" stroke="#edaf30"/><path d="M444.5 523.8h0M654.4 333.7h0M439.6 526.4h0M459.2 513.1h0M657.6 326.5h0" stroke="#eda630"/><path d="M482.7 486.7h0M404.7 554.3h0M635.6 348.6h0" stroke="#ee9d30"/><path d="M459.8 507.8h0M408.7 550.0h0" stroke="#ef8730"/><path d="M408.8 548.5h0" stroke="#f07c30"/><path d="M490.6 485.3h0" stroke="#f06830"/><path d="M484.8 486.3h0M403.3 555.6h0" stroke="#f05e30"/><path d="M636.2 343.6h0" stroke="#ff1a2a"/><path d="M639.3 345.7h0" stroke="#ff1a2a"/><path d="M637.9 346.7h0" stroke="#ff1a2a"/><path d="M636.1 344.0h0" stroke="#ff1a2a"/><path d="M640.5 345.9h0" stroke="#ff1a2a"/><path d="M631.3 447.1h0" stroke="#25612e"/><path d="M580.1 414.5h0M576.2 412.1h0M520.8 476.1h0M459.6 531.8h0M470.1 464.9h0M629.0 324.0h0M567.6 453.1h0M512.8 505.4h0M570.0 351.7h0M622.1 382.3h0M526.3 541.1h0M475.3 474.2h0M445.3 538.6h0M475.2 438.4h0M625.8 342.6h0" stroke="#2d692e"/><path d="M480.1 471.8h0M490.9 456.0h0M435.0 505.7h0M646.5 329.3h0M493.2 491.4h0M466.9 489.3h0M588.7 400.5h0M476.2 512.7h0M536.8 449.4h0M552.0 366.4h0M477.7 473.4h0M618.6 387.4h0M533.5 413.4h0M640.9 358.9h0M547.0 436.4h0" stroke="#40732f"/><path d="M595.3 369.7h0M466.5 522.9h0M467.8 518.1h0M495.7 461.5h0M468.9 487.0h0M539.3 393.8h0M499.8 496.0h0" stroke="#567e30"/><path d="M572.5 401.5h0M436.2 540.9h0M498.0 490.6h0M589.0 373.6h0M540.2 438.2h0M459.9 486.6h0M595.8 395.5h0M581.2 400.4h0M569.8 387.3h0M491.0 462.2h0M570.2 381.2h0M579.6 386.3h0M613.0 350.7h0M642.7 355.4h0M628.0 353.9h0" stroke="#6b8930"/><path d="M636.1 336.2h0M565.7 409.5h0M571.0 412.0h0M554.6 425.4h0M440.4 538.3h0M454.0 493.6h0M532.9 441.7h0M593.6 393.5h0M553.2 414.3h0M495.0 500.5h0M503.0 465.0h0M521.5 431.3h0M525.0 436.9h0M528.7 444.4h0" stroke="#809530"/><path d="M460.0 518.4h0M526.1 473.7h0M580.9 392.1h0M526.9 461.2h0M407.8 543.9h0M558.5 413.0h0M549.7 406.1h0M596.9 390.5h0M538.6 453.3h0M548.6 404.4h0M494.4 461.8h0M574.5 379.1h0M466.5 500.7h0M545.3 421.5h0M604.2 382.1h0M567.9 393.3h0M659.1 336.8h0M527.2 426.9h0M430.6 521.7h0M513.6 439.7h0M525.5 465.8h0M535.4 453.7h0" stroke="#939f30"/><path d="M538.2 438.7h0M526.0 425.4h0M579.9 388.2h0M497.2 464.0h0M547.8 431.7h0M431.2 538.2h0M579.6 396.3h0M516.1 441.3h0M628.8 348.2h0M440.8 536.1h0M518.2 444.1h0M510.0 456.1h0M623.0 377.1h0M429.8 542.0h0M573.7 424.8h0M587.4 394.0h0M519.6 463.8h0M604.5 376.1h0" stroke="#a1a530"/><path d="M552.6 413.9h0M434.0 520.6h0M599.9 384.8h0M618.7 367.0h0M571.8 383.2h0M506.1 458.2h0M598.0 390.4h0M526.1 426.5h0M479.0 489.9h0M583.7 393.8h0M600.9 375.3h0M570.0 408.9h0" stroke="#aeab30"/><path d="M558.6 433.2h0M543.6 418.4h0M469.1 495.1h0M640.4 353.2h0M529.3 454.2h0M505.7 457.1h0M622.7 358.5h0M654.9 324.1h0M467.1 508.5h0M580.1 396.6h0M660.4 332.7h0M588.4 396.8h0M492.3 478.7h0M513.7 457.1h0M555.9 416.4h0M649.7 328.6h0M482.6 499.8h0M447.3 527.7h0M430.2 538.4h0M455.6 521.8h0" stroke="#bcb130"/><path d="M422.7 547.6h0M514.2 464.8h0M515.4 463.9h0M414.4 543.8h0M507.5 469.8h0M486.4 480.7h0M442.1 515.3h0M621.5 350.5h0M512.3 465.4h0M562.5 414.2h0M650.4 337.4h0M511.7 453.0h0M435.7 520.7h0M512.2 466.8h0M464.9 497.8h0" stroke="#c8b530"/><path d="M464.9 507.2h0M477.1 493.3h0M650.4 328.2h0M581.6 394.7h0M438.1 532.6h0M462.5 512.4h0M521.7 453.9h0M450.0 513.1h0M561.2 413.8h0M561.0 413.0h0" stroke="#d3b930"/><path d="M547.1 421.5h0M447.0 516.7h0M656.6 338.8h0M433.7 523.1h0M436.0 523.9h0M611.5 375.2h0M414.0 550.0h0M433.7 529.4h0M584.9 393.2h0M650.6 331.3h0M512.5 460.6h0M612.3 377.9h0M464.8 494.7h0M431.2 536.1h0" stroke="#debc30"/><path d="M481.5 488.1h0M507.8 458.6h0M518.8 463.9h0M460.9 510.5h0M506.4 464.2h0M650.8 335.0h0M446.3 514.3h0M454.9 506.6h0M463.4 505.3h0" stroke="#e5bd30"/><path d="M656.7 324.6h0M480.1 482.6h0M645.8 344.6h0M461.0 514.1h0M414.9 542.6h0" stroke="#e8bc30"/><path d="M464.6 500.7h0M457.3 508.9h0M646.5 345.2h0M512.8 463.0h0M507.7 461.5h0M421.7 546.2h0M455.8 513.7h0M424.0 538.5h0M446.1 529.8h0M513.2 446.5h0M411.5 547.2h0" stroke="#eabb30"/><path d="M451.6 516.5h0M642.2 341.7h0M460.3 502.9h0M459.2 501.8h0M488.3 483.2h0" stroke="#ecb830"/><path d="M632.7 350.3h0M445.1 528.6h0M419.9 536.8h0M509.3 459.2h0" stroke="#edaf30"/><path d="M409.5 553.5h0M490.3 484.0h0M637.9 342.0h0" stroke="#eda630"/><path d="M437.8 525.8h0M612.5 365.9h0M410.2 549.2h0M658.8 331.5h0" stroke="#ee9d30"/><path d="M577.5 399.1h0M437.4 517.1h0" stroke="#ee9230"/><path d="M461.5 509.1h0M485.8 483.7h0M409.4 551.1h0M422.3 543.3h0M632.0 348.6h0" stroke="#ef8730"/><path d="M636.9 342.5h0M413.9 545.9h0M440.0 521.2h0M512.0 463.1h0M457.0 505.6h0" stroke="#f07c30"/><path d="M440.0 528.9h0M642.1 343.1h0M418.7 538.6h0" stroke="#f07130"/><path d="M443.9 520.2h0M489.9 482.3h0" stroke="#f05e30"/><path d="M639.6 345.0h0M483.3 488.0h0" stroke="#f05430"/><path d="M507.9 459.5h0" stroke="#f24730"/><path d="M421.8 540.7h0" stroke="#f62e30"/><path d="M638.3 344.7h0" stroke="#ff1a2a"/><path d="M420.0 539.3h0" stroke="#ff1a2a"/><path d="M637.6 346.9h0" stroke="#ff1a2a"/><path d="M486.0 485.4h0" stroke="#ff1a2a"/><path d="M560.7 386.6h0" stroke="#25612e"/><path d="M501.1 508.4h0M608.6 340.9h0M553.1 387.1h0M431.8 508.4h0M577.6 359.0h0M510.9 430.4h0M510.1 517.6h0M527.9 487.1h0M409.8 531.4h0M603.8 424.3h0" stroke="#2d692e"/><path d="M485.2 466.8h0M529.5 411.6h0M436.9 537.2h0M451.0 530.8h0M580.4 349.5h0M534.5 463.1h0M585.7 367.3h0M556.5 433.8h0M453.1 524.9h0M555.4 451.0h0M494.8 502.5h0M515.2 428.8h0M404.7 535.6h0M544.6 411.8h0M567.4 433.9h0M437.0 505.9h0" stroke="#40732f"/><path d="M528.0 463.9h0M492.3 537.8h0M486.0 473.5h0M517.7 428.0h0M632.0 365.4h0M517.4 419.0h0M520.2 425.7h0M438.0 512.8h0M511.5 408.5h0M572.3 391.2h0M567.0 383.3h0M513.0 491.5h0M467.3 490.9h0M600.5 399.2h0M490.2 502.8h0M487.1 497.0h0" stroke="#567e30"/><path d="M567.5 384.6h0M558.9 399.4h0M531.0 468.1h0M524.8 455.2h0M461.6 495.3h0M648.4 351.6h0M573.9 361.4h0M623.3 367.8h0M478.5 503.5h0M634.9 338.6h0M528.2 453.6h0M610.6 354.1h0M507.5 493.7h0M525.8 438.1h0M529.1 423.4h0M537.6 430.8h0M410.2 537.9h0M650.4 350.3h0M595.6 388.4h0" stroke="#6b8930"/><path d="M632.1 361.4h0M423.3 547.9h0M639.0 331.1h0M571.8 420.9h0M530.7 456.8h0M509.5 484.2h0M611.7 364.3h0M473.4 492.3h0M543.2 424.4h0M653.4 321.5h0M627.7 363.3h0" stroke="#809530"/><path d="M478.5 506.9h0M641.9 353.8h0M499.1 484.6h0M612.9 379.0h0M479.6 479.6h0M531.9 449.1h0M551.0 419.5h0M527.9 431.1h0M631.4 358.7h0M501.2 460.3h0M499.0 486.2h0M453.7 501.3h0M593.7 400.2h0M646.5 325.0h0M643.8 354.7h0M596.7 381.4h0M521.8 465.8h0M546.1 426.4h0M558.8 408.2h0M613.3 345.7h0M661.6 336.5h0M561.0 404.9h0" stroke="#939f30"/><path d="M493.4 487.3h0M457.5 522.5h0M638.4 352.9h0M575.2 425.3h0M587.7 393.7h0M470.0 507.1h0M499.6 472.1h0M592.7 374.4h0M633.9 352.2h0M428.6 539.9h0M523.4 451.3h0M500.6 458.5h0M660.6 320.0h0M570.5 402.8h0M605.8 377.8h0M581.0 402.4h0" stroke="#a1a530"/><path d="M513.4 438.1h0M630.8 344.7h0M598.0 380.8h0M621.3 344.2h0M530.0 454.8h0M584.5 399.2h0M617.1 370.5h0M423.6 531.1h0M604.8 373.8h0M476.0 500.7h0M436.9 523.3h0M607.4 376.4h0M452.6 506.1h0M489.7 474.9h0M587.9 402.2h0" stroke="#aeab30"/><path d="M660.4 336.9h0M620.0 342.8h0M436.1 534.0h0M592.8 373.2h0M524.9 464.1h0M622.5 354.0h0M619.3 367.8h0M480.5 495.8h0M607.6 380.9h0M450.6 511.2h0M547.2 425.4h0M652.9 328.2h0" stroke="#bcb130"/><path d="M620.7 350.1h0M472.3 492.6h0M560.0 410.0h0M630.9 349.9h0M624.1 362.1h0M402.7 552.1h0M645.5 348.2h0M632.2 356.0h0" stroke="#c8b530"/><path d="M504.7 461.1h0M620.6 359.5h0M472.7 499.8h0M608.1 367.5h0M567.4 419.5h0M643.8 336.8h0M644.7 349.9h0M467.8 497.0h0M544.3 425.9h0M603.2 369.3h0M492.4 481.0h0M433.1 530.3h0M515.6 463.0h0M658.7 336.6h0" stroke="#d3b930"/><path d="M442.5 520.6h0M659.2 323.6h0M437.0 528.2h0M481.5 481.0h0M627.5 349.7h0M601.5 374.4h0M424.9 544.6h0M616.5 362.6h0M620.9 368.9h0M605.2 371.9h0M437.2 519.1h0M609.4 375.0h0M604.7 366.7h0M610.5 360.2h0" stroke="#debc30"/><path d="M455.9 521.8h0M618.8 352.1h0M432.6 525.6h0M582.9 393.4h0M658.1 330.2h0M625.3 353.9h0M448.4 518.2h0M483.4 489.1h0M646.8 339.0h0M504.5 467.6h0M460.8 501.9h0" stroke="#e5bd30"/><path d="M502.0 466.6h0M642.7 345.7h0M620.3 355.8h0M650.7 337.4h0M434.4 524.0h0M462.8 508.3h0M559.3 412.8h0M413.5 548.3h0" stroke="#e8bc30"/><path d="M420.1 536.1h0M442.6 517.7h0M414.2 550.3h0M619.9 355.4h0M625.2 352.0h0M445.5 528.9h0M652.0 340.0h0M657.4 326.5h0M490.7 482.7h0M422.0 534.8h0M659.7 330.6h0" stroke="#eabb30"/><path d="M410.0 549.5h0M636.7 344.7h0M511.4 461.8h0M619.9 355.7h0M426.4 541.6h0M433.8 525.4h0M437.3 517.4h0M617.3 364.2h0" stroke="#ecb830"/><path d="M412.3 552.1h0" stroke="#edaf30"/><path d="M487.7 483.4h0M565.5 418.0h0M449.5 516.0h0M450.6 514.1h0" stroke="#eda630"/><path d="M441.3 523.4h0M421.4 544.8h0M457.9 511.0h0M455.4 504.3h0M408.3 553.3h0M458.1 510.4h0M405.7 555.6h0M416.4 539.8h0M457.1 513.2h0M444.1 518.6h0M464.8 504.9h0" stroke="#ee9d30"/><path d="M418.9 542.6h0M608.7 366.3h0M484.4 487.2h0M641.5 344.2h0M488.3 485.3h0M481.8 488.4h0" stroke="#ee9230"/><path d="M423.5 541.3h0M438.9 527.8h0M425.2 543.5h0" stroke="#ef8730"/><path d="M444.5 525.3h0M420.2 538.1h0" stroke="#f07c30"/><path d="M406.4 548.9h0" stroke="#f07130"/><path d="M419.5 538.7h0M440.6 523.9h0" stroke="#f06830"/><path d="M652.3 331.0h0" stroke="#f05e30"/><path d="M620.9 370.1h0" stroke="#f24730"/></g>
</g>
<line x1="401.38" y1="557.71" x2="662.58" y2="324.25" stroke="#1010ee" stroke-width="2"/>
<line x1="392.60" y1="558.80" x2="675.90" y2="321.40" stroke="#000" stroke-width="2.2" stroke-dasharray="8.7,8.64" stroke-dashoffset="3.8"/>
<rect x="392.6" y="321.4" width="283.29999999999995" height="237.39999999999998" fill="none" stroke="#262626" stroke-width="1.3"/>
<line x1="392.60" y1="558.8" x2="392.60" y2="563.8" stroke="#262626" stroke-width="1.2"/>
<line x1="387.6" y1="558.80" x2="392.6" y2="558.80" stroke="#262626" stroke-width="1.2"/>
<text x="390.80" y="574.80" font-size="11.5" text-anchor="middle" font-weight="bold" fill="#000" stroke="#000" stroke-width="0.22">0.00</text>
<text x="384.40" y="562.10" font-size="11.5" text-anchor="end" font-weight="bold" fill="#000" stroke="#000" stroke-width="0.22">0.00</text>
<line x1="428.01" y1="558.8" x2="428.01" y2="561.8" stroke="#262626" stroke-width="1.2"/>
<line x1="389.6" y1="529.12" x2="392.6" y2="529.12" stroke="#262626" stroke-width="1.2"/>
<line x1="463.43" y1="558.8" x2="463.43" y2="563.8" stroke="#262626" stroke-width="1.2"/>
<line x1="387.6" y1="499.45" x2="392.6" y2="499.45" stroke="#262626" stroke-width="1.2"/>
<text x="461.62" y="574.80" font-size="11.5" text-anchor="middle" font-weight="bold" fill="#000" stroke="#000" stroke-width="0.22">0.25</text>
<text x="384.40" y="502.75" font-size="11.5" text-anchor="end" font-weight="bold" fill="#000" stroke="#000" stroke-width="0.22">0.25</text>
<line x1="498.84" y1="558.8" x2="498.84" y2="561.8" stroke="#262626" stroke-width="1.2"/>
<line x1="389.6" y1="469.77" x2="392.6" y2="469.77" stroke="#262626" stroke-width="1.2"/>
<line x1="534.25" y1="558.8" x2="534.25" y2="563.8" stroke="#262626" stroke-width="1.2"/>
<line x1="387.6" y1="440.10" x2="392.6" y2="440.10" stroke="#262626" stroke-width="1.2"/>
<text x="532.45" y="574.80" font-size="11.5" text-anchor="middle" font-weight="bold" fill="#000" stroke="#000" stroke-width="0.22">0.50</text>
<text x="384.40" y="443.40" font-size="11.5" text-anchor="end" font-weight="bold" fill="#000" stroke="#000" stroke-width="0.22">0.50</text>
<line x1="569.66" y1="558.8" x2="569.66" y2="561.8" stroke="#262626" stroke-width="1.2"/>
<line x1="389.6" y1="410.42" x2="392.6" y2="410.42" stroke="#262626" stroke-width="1.2"/>
<line x1="605.08" y1="558.8" x2="605.08" y2="563.8" stroke="#262626" stroke-width="1.2"/>
<line x1="387.6" y1="380.75" x2="392.6" y2="380.75" stroke="#262626" stroke-width="1.2"/>
<text x="603.28" y="574.80" font-size="11.5" text-anchor="middle" font-weight="bold" fill="#000" stroke="#000" stroke-width="0.22">0.75</text>
<text x="384.40" y="384.05" font-size="11.5" text-anchor="end" font-weight="bold" fill="#000" stroke="#000" stroke-width="0.22">0.75</text>
<line x1="640.49" y1="558.8" x2="640.49" y2="561.8" stroke="#262626" stroke-width="1.2"/>
<line x1="389.6" y1="351.07" x2="392.6" y2="351.07" stroke="#262626" stroke-width="1.2"/>
<line x1="675.90" y1="558.8" x2="675.90" y2="563.8" stroke="#262626" stroke-width="1.2"/>
<line x1="387.6" y1="321.40" x2="392.6" y2="321.40" stroke="#262626" stroke-width="1.2"/>
<text x="674.10" y="574.80" font-size="11.5" text-anchor="middle" font-weight="bold" fill="#000" stroke="#000" stroke-width="0.22">1.00</text>
<text x="384.40" y="324.70" font-size="11.5" text-anchor="end" font-weight="bold" fill="#000" stroke="#000" stroke-width="0.22">1.00</text>
<text transform="translate(359.8,440.10) rotate(-90)" font-size="16.9" text-anchor="middle" font-weight="bold" stroke="#000" stroke-width="0.22">Microbial PUE observed</text>
<text x="534.25" y="594.70" font-size="16.9" text-anchor="middle" font-weight="bold" fill="#000" stroke="#000" stroke-width="0.22">Microbial PUE predicted</text>
<text x="636.20" y="471.30" font-size="11" text-anchor="middle" font-weight="bold" fill="#000" stroke="#000" stroke-width="0.22">Count</text>
<rect x="625.3" y="476.60" width="20.2" height="3.46" fill="#fd1f2c"/><rect x="625.3" y="479.06" width="20.2" height="3.46" fill="#f8282f"/><rect x="625.3" y="481.52" width="20.2" height="3.46" fill="#f53430"/><rect x="625.3" y="483.98" width="20.2" height="3.46" fill="#f34230"/><rect x="625.3" y="486.44" width="20.2" height="3.46" fill="#f14f30"/><rect x="625.3" y="488.90" width="20.2" height="3.46" fill="#f05b30"/><rect x="625.3" y="491.36" width="20.2" height="3.46" fill="#f06530"/><rect x="625.3" y="493.82" width="20.2" height="3.46" fill="#f07030"/><rect x="625.3" y="496.28" width="20.2" height="3.46" fill="#f07a30"/><rect x="625.3" y="498.74" width="20.2" height="3.46" fill="#ef8630"/><rect x="625.3" y="501.20" width="20.2" height="3.46" fill="#ee9230"/><rect x="625.3" y="503.66" width="20.2" height="3.46" fill="#ee9d30"/><rect x="625.3" y="506.12" width="20.2" height="3.46" fill="#eda730"/><rect x="625.3" y="508.58" width="20.2" height="3.46" fill="#edb130"/><rect x="625.3" y="511.04" width="20.2" height="3.46" fill="#ecba30"/><rect x="625.3" y="513.50" width="20.2" height="3.46" fill="#e9bb30"/><rect x="625.3" y="515.96" width="20.2" height="3.46" fill="#e7bd30"/><rect x="625.3" y="518.42" width="20.2" height="3.46" fill="#e4be30"/><rect x="625.3" y="520.88" width="20.2" height="3.46" fill="#d8ba30"/><rect x="625.3" y="523.34" width="20.2" height="3.46" fill="#ccb630"/><rect x="625.3" y="525.80" width="20.2" height="3.46" fill="#c0b230"/><rect x="625.3" y="528.26" width="20.2" height="3.46" fill="#b1ac30"/><rect x="625.3" y="530.72" width="20.2" height="3.46" fill="#a3a630"/><rect x="625.3" y="533.18" width="20.2" height="3.46" fill="#95a030"/><rect x="625.3" y="535.64" width="20.2" height="3.46" fill="#809530"/><rect x="625.3" y="538.10" width="20.2" height="3.46" fill="#6b8930"/><rect x="625.3" y="540.56" width="20.2" height="3.46" fill="#547d30"/><rect x="625.3" y="543.02" width="20.2" height="3.46" fill="#3d712f"/><rect x="625.3" y="545.48" width="20.2" height="3.46" fill="#2b672e"/><rect x="625.3" y="547.94" width="20.2" height="3.46" fill="#235e2e"/><rect x="625.3" y="476.6" width="20.2" height="73.8" fill="none" stroke="#333" stroke-width="1"/>
<text x="650.00" y="485.00" font-size="10.5" text-anchor="start" font-weight="bold" fill="#000" stroke="#000" stroke-width="0.22">40</text>
<text x="650.00" y="500.35" font-size="10.5" text-anchor="start" font-weight="bold" fill="#000" stroke="#000" stroke-width="0.22">30</text>
<text x="650.00" y="515.70" font-size="10.5" text-anchor="start" font-weight="bold" fill="#000" stroke="#000" stroke-width="0.22">20</text>
<text x="650.00" y="531.05" font-size="10.5" text-anchor="start" font-weight="bold" fill="#000" stroke="#000" stroke-width="0.22">10</text>
</svg></body></html>
